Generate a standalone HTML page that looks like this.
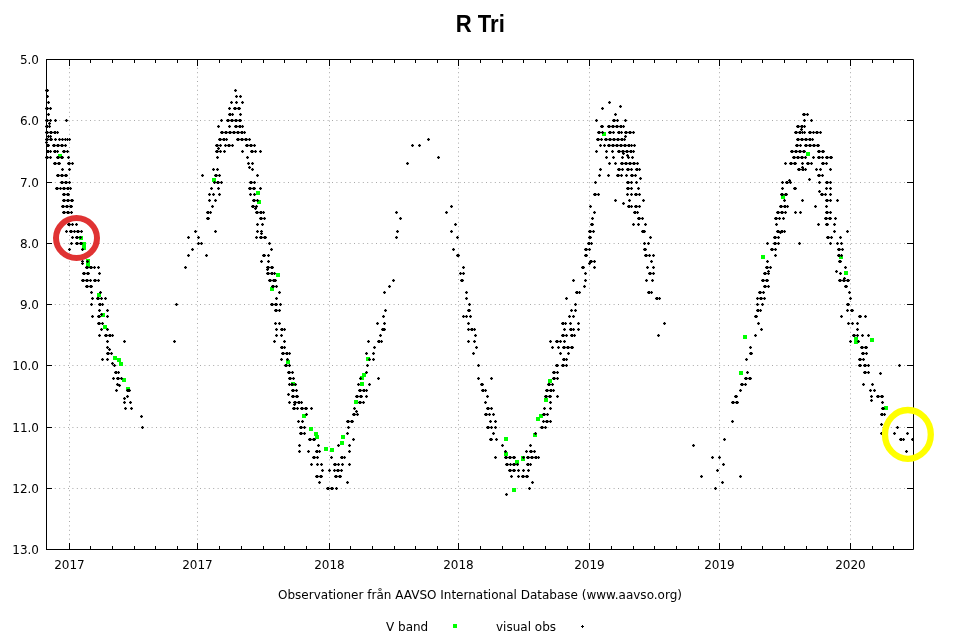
<!DOCTYPE html>
<html><head><meta charset="utf-8"><style>
html,body{margin:0;padding:0;background:#fff;width:960px;height:640px;overflow:hidden}
svg{display:block}
text{font-family:"DejaVu Sans","Liberation Sans",sans-serif;font-size:12px;fill:#000}
</style></head><body>
<svg width="960" height="640" viewBox="0 0 960 640">
<rect width="960" height="640" fill="#fff"/>
<text transform="translate(480.3 32) scale(0.96 1)" text-anchor="middle" style="font-family:'Liberation Sans',sans-serif;font-weight:bold;font-size:23px">R Tri</text>
<path d="M46 120.5H913M46 182.5H913M46 243.5H913M46 304.5H913M46 365.5H913M46 427.5H913M46 488.5H913M69.5 59V549M197.5 59V549M329.5 59V549M458.5 59V549M589.5 59V549M719.5 59V549M850.5 59V549" stroke="#a8a8a8" stroke-width="1" stroke-dasharray="1 3.4" fill="none"/>
<path d="M58 154h4v4h-4zM79 236h4v4h-4zM82 242h4v4h-4zM82 246h4v4h-4zM86 259h4v4h-4zM86 263h4v4h-4zM97 293h4v4h-4zM101 313h4v4h-4zM103 325h4v4h-4zM113 356h4v4h-4zM117 358h4v4h-4zM119 362h4v4h-4zM122 378h4v4h-4zM126 387h4v4h-4zM212 178h4v4h-4zM256 191h4v4h-4zM257 200h4v4h-4zM276 273h4v4h-4zM270 287h4v4h-4zM286 360h4v4h-4zM291 382h4v4h-4zM302 414h4v4h-4zM309 427h4v4h-4zM314 432h4v4h-4zM315 435h4v4h-4zM324 447h4v4h-4zM330 448h4v4h-4zM340 441h4v4h-4zM341 435h4v4h-4zM354 400h4v4h-4zM360 382h4v4h-4zM360 376h4v4h-4zM362 373h4v4h-4zM366 357h4v4h-4zM504 437h4v4h-4zM504 452h4v4h-4zM515 460h4v4h-4zM521 457h4v4h-4zM512 488h4v4h-4zM521 456h4v4h-4zM533 433h4v4h-4zM536 417h4v4h-4zM539 414h4v4h-4zM544 398h4v4h-4zM548 379h4v4h-4zM602 132h4v4h-4zM739 371h4v4h-4zM743 335h4v4h-4zM761 255h4v4h-4zM781 195h4v4h-4zM806 152h4v4h-4zM839 255h4v4h-4zM844 271h4v4h-4zM854 337h4v4h-4zM854 340h4v4h-4zM870 338h4v4h-4zM884 406h4v4h-4z" fill="#00ff00"/>
<path d="M45 89h3v3h-3zM46 89h3v3h-3zM46 95h3v3h-3zM47 101h3v3h-3zM45 107h3v3h-3zM46 107h3v3h-3zM49 107h3v3h-3zM47 113h3v3h-3zM45 119h3v3h-3zM46 119h3v3h-3zM49 119h3v3h-3zM54 119h3v3h-3zM65 119h3v3h-3zM48 122h3v3h-3zM45 125h3v3h-3zM46 125h3v3h-3zM48 125h3v3h-3zM45 131h3v3h-3zM46 131h3v3h-3zM49 131h3v3h-3zM50 131h3v3h-3zM53 131h3v3h-3zM54 131h3v3h-3zM56 131h3v3h-3zM47 135h3v3h-3zM49 135h3v3h-3zM45 138h3v3h-3zM46 138h3v3h-3zM49 138h3v3h-3zM50 138h3v3h-3zM54 138h3v3h-3zM58 138h3v3h-3zM61 138h3v3h-3zM64 138h3v3h-3zM66 138h3v3h-3zM68 138h3v3h-3zM45 141h3v3h-3zM46 144h3v3h-3zM47 144h3v3h-3zM52 144h3v3h-3zM53 144h3v3h-3zM56 144h3v3h-3zM57 144h3v3h-3zM60 144h3v3h-3zM61 144h3v3h-3zM64 144h3v3h-3zM46 150h3v3h-3zM47 150h3v3h-3zM49 150h3v3h-3zM53 150h3v3h-3zM54 150h3v3h-3zM56 150h3v3h-3zM62 150h3v3h-3zM63 150h3v3h-3zM66 150h3v3h-3zM45 156h3v3h-3zM46 156h3v3h-3zM49 156h3v3h-3zM56 156h3v3h-3zM57 156h3v3h-3zM60 156h3v3h-3zM61 156h3v3h-3zM67 156h3v3h-3zM53 162h3v3h-3zM54 162h3v3h-3zM57 162h3v3h-3zM58 162h3v3h-3zM67 162h3v3h-3zM68 162h3v3h-3zM71 162h3v3h-3zM61 168h3v3h-3zM68 168h3v3h-3zM56 174h3v3h-3zM57 174h3v3h-3zM60 174h3v3h-3zM61 174h3v3h-3zM64 174h3v3h-3zM65 174h3v3h-3zM60 181h3v3h-3zM61 181h3v3h-3zM64 181h3v3h-3zM65 181h3v3h-3zM68 181h3v3h-3zM55 187h3v3h-3zM56 187h3v3h-3zM59 187h3v3h-3zM62 187h3v3h-3zM63 187h3v3h-3zM66 187h3v3h-3zM67 187h3v3h-3zM69 187h3v3h-3zM62 193h3v3h-3zM63 193h3v3h-3zM66 193h3v3h-3zM67 193h3v3h-3zM62 199h3v3h-3zM63 199h3v3h-3zM66 199h3v3h-3zM67 199h3v3h-3zM70 199h3v3h-3zM71 199h3v3h-3zM61 205h3v3h-3zM62 205h3v3h-3zM65 205h3v3h-3zM66 205h3v3h-3zM69 205h3v3h-3zM70 205h3v3h-3zM62 211h3v3h-3zM63 211h3v3h-3zM66 211h3v3h-3zM67 211h3v3h-3zM70 211h3v3h-3zM67 223h3v3h-3zM68 223h3v3h-3zM71 223h3v3h-3zM75 223h3v3h-3zM65 230h3v3h-3zM69 230h3v3h-3zM70 230h3v3h-3zM73 230h3v3h-3zM76 230h3v3h-3zM77 230h3v3h-3zM80 230h3v3h-3zM71 236h3v3h-3zM75 236h3v3h-3zM76 236h3v3h-3zM79 236h3v3h-3zM70 242h3v3h-3zM75 242h3v3h-3zM76 242h3v3h-3zM79 242h3v3h-3zM80 242h3v3h-3zM68 248h3v3h-3zM81 248h3v3h-3zM81 260h3v3h-3zM86 260h3v3h-3zM81 262h3v3h-3zM85 266h3v3h-3zM86 266h3v3h-3zM89 266h3v3h-3zM90 266h3v3h-3zM93 266h3v3h-3zM97 266h3v3h-3zM82 272h3v3h-3zM83 272h3v3h-3zM86 272h3v3h-3zM87 272h3v3h-3zM98 272h3v3h-3zM81 279h3v3h-3zM82 279h3v3h-3zM85 279h3v3h-3zM86 279h3v3h-3zM89 279h3v3h-3zM93 279h3v3h-3zM94 279h3v3h-3zM97 279h3v3h-3zM85 285h3v3h-3zM86 285h3v3h-3zM89 285h3v3h-3zM90 285h3v3h-3zM90 291h3v3h-3zM99 291h3v3h-3zM91 297h3v3h-3zM96 297h3v3h-3zM97 297h3v3h-3zM100 297h3v3h-3zM104 297h3v3h-3zM90 303h3v3h-3zM98 303h3v3h-3zM99 303h3v3h-3zM101 303h3v3h-3zM98 309h3v3h-3zM106 309h3v3h-3zM91 315h3v3h-3zM97 315h3v3h-3zM98 315h3v3h-3zM106 315h3v3h-3zM100 313h3v3h-3zM97 322h3v3h-3zM98 322h3v3h-3zM101 322h3v3h-3zM100 328h3v3h-3zM106 328h3v3h-3zM98 334h3v3h-3zM104 334h3v3h-3zM105 334h3v3h-3zM108 334h3v3h-3zM109 334h3v3h-3zM111 334h3v3h-3zM106 340h3v3h-3zM123 340h3v3h-3zM106 346h3v3h-3zM108 348h3v3h-3zM106 352h3v3h-3zM107 352h3v3h-3zM110 352h3v3h-3zM101 358h3v3h-3zM106 358h3v3h-3zM111 362h3v3h-3zM113 364h3v3h-3zM114 371h3v3h-3zM115 371h3v3h-3zM117 371h3v3h-3zM112 377h3v3h-3zM116 377h3v3h-3zM117 377h3v3h-3zM120 377h3v3h-3zM116 383h3v3h-3zM118 384h3v3h-3zM115 389h3v3h-3zM126 389h3v3h-3zM127 389h3v3h-3zM128 389h3v3h-3zM126 395h3v3h-3zM123 397h3v3h-3zM123 401h3v3h-3zM129 401h3v3h-3zM124 407h3v3h-3zM130 407h3v3h-3zM140 415h3v3h-3zM141 426h3v3h-3zM175 303h3v3h-3zM173 340h3v3h-3zM184 266h3v3h-3zM187 254h3v3h-3zM205 254h3v3h-3zM191 248h3v3h-3zM197 242h3v3h-3zM200 242h3v3h-3zM187 236h3v3h-3zM197 236h3v3h-3zM194 230h3v3h-3zM214 230h3v3h-3zM206 217h3v3h-3zM207 217h3v3h-3zM206 211h3v3h-3zM207 211h3v3h-3zM209 211h3v3h-3zM211 205h3v3h-3zM208 199h3v3h-3zM214 199h3v3h-3zM208 193h3v3h-3zM212 193h3v3h-3zM218 193h3v3h-3zM210 187h3v3h-3zM217 187h3v3h-3zM213 181h3v3h-3zM216 181h3v3h-3zM217 181h3v3h-3zM220 181h3v3h-3zM201 174h3v3h-3zM214 174h3v3h-3zM215 174h3v3h-3zM218 174h3v3h-3zM212 168h3v3h-3zM216 168h3v3h-3zM216 156h3v3h-3zM215 150h3v3h-3zM216 150h3v3h-3zM219 150h3v3h-3zM223 150h3v3h-3zM215 144h3v3h-3zM216 144h3v3h-3zM219 144h3v3h-3zM224 144h3v3h-3zM227 144h3v3h-3zM228 144h3v3h-3zM231 144h3v3h-3zM217 147h3v3h-3zM218 138h3v3h-3zM219 138h3v3h-3zM222 138h3v3h-3zM223 138h3v3h-3zM225 138h3v3h-3zM236 138h3v3h-3zM237 138h3v3h-3zM240 138h3v3h-3zM241 138h3v3h-3zM244 138h3v3h-3zM245 138h3v3h-3zM248 138h3v3h-3zM220 131h3v3h-3zM221 131h3v3h-3zM224 131h3v3h-3zM225 131h3v3h-3zM228 131h3v3h-3zM229 131h3v3h-3zM232 131h3v3h-3zM233 131h3v3h-3zM236 131h3v3h-3zM237 131h3v3h-3zM240 131h3v3h-3zM241 131h3v3h-3zM243 131h3v3h-3zM217 125h3v3h-3zM228 125h3v3h-3zM234 125h3v3h-3zM235 125h3v3h-3zM238 125h3v3h-3zM239 125h3v3h-3zM241 125h3v3h-3zM220 119h3v3h-3zM226 119h3v3h-3zM227 119h3v3h-3zM230 119h3v3h-3zM231 119h3v3h-3zM234 119h3v3h-3zM235 119h3v3h-3zM238 119h3v3h-3zM239 119h3v3h-3zM228 113h3v3h-3zM229 113h3v3h-3zM231 113h3v3h-3zM239 113h3v3h-3zM228 107h3v3h-3zM233 107h3v3h-3zM234 107h3v3h-3zM237 107h3v3h-3zM238 107h3v3h-3zM230 101h3v3h-3zM235 101h3v3h-3zM241 101h3v3h-3zM235 95h3v3h-3zM239 95h3v3h-3zM234 89h3v3h-3zM245 144h3v3h-3zM246 144h3v3h-3zM249 144h3v3h-3zM250 144h3v3h-3zM253 144h3v3h-3zM241 150h3v3h-3zM250 150h3v3h-3zM251 150h3v3h-3zM254 150h3v3h-3zM259 150h3v3h-3zM246 156h3v3h-3zM247 162h3v3h-3zM251 162h3v3h-3zM248 166h3v3h-3zM251 168h3v3h-3zM256 174h3v3h-3zM249 181h3v3h-3zM250 181h3v3h-3zM253 181h3v3h-3zM248 187h3v3h-3zM249 187h3v3h-3zM252 187h3v3h-3zM253 187h3v3h-3zM259 187h3v3h-3zM249 193h3v3h-3zM253 193h3v3h-3zM252 199h3v3h-3zM253 199h3v3h-3zM256 199h3v3h-3zM251 205h3v3h-3zM252 205h3v3h-3zM255 205h3v3h-3zM254 207h3v3h-3zM255 211h3v3h-3zM256 211h3v3h-3zM259 211h3v3h-3zM260 211h3v3h-3zM262 211h3v3h-3zM259 217h3v3h-3zM260 217h3v3h-3zM263 217h3v3h-3zM256 223h3v3h-3zM261 223h3v3h-3zM256 230h3v3h-3zM260 230h3v3h-3zM260 232h3v3h-3zM255 236h3v3h-3zM259 236h3v3h-3zM260 236h3v3h-3zM263 236h3v3h-3zM264 236h3v3h-3zM268 242h3v3h-3zM270 248h3v3h-3zM262 254h3v3h-3zM263 254h3v3h-3zM267 254h3v3h-3zM260 260h3v3h-3zM267 260h3v3h-3zM266 266h3v3h-3zM267 266h3v3h-3zM270 266h3v3h-3zM271 266h3v3h-3zM266 268h3v3h-3zM266 272h3v3h-3zM267 272h3v3h-3zM270 272h3v3h-3zM271 272h3v3h-3zM273 272h3v3h-3zM268 279h3v3h-3zM269 279h3v3h-3zM272 279h3v3h-3zM273 279h3v3h-3zM274 279h3v3h-3zM271 285h3v3h-3zM272 285h3v3h-3zM275 285h3v3h-3zM278 291h3v3h-3zM275 297h3v3h-3zM270 303h3v3h-3zM271 303h3v3h-3zM274 303h3v3h-3zM275 303h3v3h-3zM279 303h3v3h-3zM274 309h3v3h-3zM275 309h3v3h-3zM278 309h3v3h-3zM274 322h3v3h-3zM278 322h3v3h-3zM275 328h3v3h-3zM280 328h3v3h-3zM281 328h3v3h-3zM283 328h3v3h-3zM275 334h3v3h-3zM280 334h3v3h-3zM273 340h3v3h-3zM283 340h3v3h-3zM280 346h3v3h-3zM281 346h3v3h-3zM283 346h3v3h-3zM281 352h3v3h-3zM282 352h3v3h-3zM285 352h3v3h-3zM286 352h3v3h-3zM288 352h3v3h-3zM280 358h3v3h-3zM286 358h3v3h-3zM284 364h3v3h-3zM285 364h3v3h-3zM288 364h3v3h-3zM287 371h3v3h-3zM288 371h3v3h-3zM291 371h3v3h-3zM288 377h3v3h-3zM289 377h3v3h-3zM292 377h3v3h-3zM288 383h3v3h-3zM290 383h3v3h-3zM291 383h3v3h-3zM294 383h3v3h-3zM291 389h3v3h-3zM292 389h3v3h-3zM295 389h3v3h-3zM287 393h3v3h-3zM291 395h3v3h-3zM292 395h3v3h-3zM295 395h3v3h-3zM296 395h3v3h-3zM288 401h3v3h-3zM293 401h3v3h-3zM294 401h3v3h-3zM297 401h3v3h-3zM298 401h3v3h-3zM300 401h3v3h-3zM293 403h3v3h-3zM292 407h3v3h-3zM293 407h3v3h-3zM296 407h3v3h-3zM300 407h3v3h-3zM301 407h3v3h-3zM304 407h3v3h-3zM305 407h3v3h-3zM310 407h3v3h-3zM305 413h3v3h-3zM297 420h3v3h-3zM301 420h3v3h-3zM299 426h3v3h-3zM300 426h3v3h-3zM303 426h3v3h-3zM299 432h3v3h-3zM300 432h3v3h-3zM303 432h3v3h-3zM308 438h3v3h-3zM309 438h3v3h-3zM312 438h3v3h-3zM313 438h3v3h-3zM298 444h3v3h-3zM317 444h3v3h-3zM298 450h3v3h-3zM307 450h3v3h-3zM315 450h3v3h-3zM316 450h3v3h-3zM318 450h3v3h-3zM312 456h3v3h-3zM313 456h3v3h-3zM316 456h3v3h-3zM330 456h3v3h-3zM310 463h3v3h-3zM316 463h3v3h-3zM320 463h3v3h-3zM333 463h3v3h-3zM334 463h3v3h-3zM337 463h3v3h-3zM321 469h3v3h-3zM328 469h3v3h-3zM333 469h3v3h-3zM336 469h3v3h-3zM337 469h3v3h-3zM340 469h3v3h-3zM315 475h3v3h-3zM316 475h3v3h-3zM319 475h3v3h-3zM320 475h3v3h-3zM334 475h3v3h-3zM335 475h3v3h-3zM338 475h3v3h-3zM339 475h3v3h-3zM318 481h3v3h-3zM346 481h3v3h-3zM326 487h3v3h-3zM327 487h3v3h-3zM330 487h3v3h-3zM331 487h3v3h-3zM335 487h3v3h-3zM341 463h3v3h-3zM348 463h3v3h-3zM340 456h3v3h-3zM341 456h3v3h-3zM343 456h3v3h-3zM348 450h3v3h-3zM337 444h3v3h-3zM348 444h3v3h-3zM352 438h3v3h-3zM346 432h3v3h-3zM347 426h3v3h-3zM346 420h3v3h-3zM347 420h3v3h-3zM350 420h3v3h-3zM351 420h3v3h-3zM352 413h3v3h-3zM353 413h3v3h-3zM356 413h3v3h-3zM355 410h3v3h-3zM353 407h3v3h-3zM358 401h3v3h-3zM359 401h3v3h-3zM362 401h3v3h-3zM355 395h3v3h-3zM356 395h3v3h-3zM359 395h3v3h-3zM360 395h3v3h-3zM365 395h3v3h-3zM358 389h3v3h-3zM359 389h3v3h-3zM362 389h3v3h-3zM363 389h3v3h-3zM365 389h3v3h-3zM357 383h3v3h-3zM368 383h3v3h-3zM359 377h3v3h-3zM377 377h3v3h-3zM365 371h3v3h-3zM366 364h3v3h-3zM368 358h3v3h-3zM372 358h3v3h-3zM365 352h3v3h-3zM372 352h3v3h-3zM373 346h3v3h-3zM367 340h3v3h-3zM377 340h3v3h-3zM378 340h3v3h-3zM380 340h3v3h-3zM379 334h3v3h-3zM381 328h3v3h-3zM382 328h3v3h-3zM383 328h3v3h-3zM376 322h3v3h-3zM383 322h3v3h-3zM382 315h3v3h-3zM384 309h3v3h-3zM383 291h3v3h-3zM388 285h3v3h-3zM392 279h3v3h-3zM395 236h3v3h-3zM396 230h3v3h-3zM399 217h3v3h-3zM395 211h3v3h-3zM406 162h3v3h-3zM411 144h3v3h-3zM418 144h3v3h-3zM427 138h3v3h-3zM437 156h3v3h-3zM450 205h3v3h-3zM445 211h3v3h-3zM454 223h3v3h-3zM450 230h3v3h-3zM456 236h3v3h-3zM452 248h3v3h-3zM456 254h3v3h-3zM457 254h3v3h-3zM462 266h3v3h-3zM459 272h3v3h-3zM462 272h3v3h-3zM460 279h3v3h-3zM461 279h3v3h-3zM465 291h3v3h-3zM465 297h3v3h-3zM468 303h3v3h-3zM467 309h3v3h-3zM468 309h3v3h-3zM462 315h3v3h-3zM465 315h3v3h-3zM469 315h3v3h-3zM467 322h3v3h-3zM467 328h3v3h-3zM470 328h3v3h-3zM471 328h3v3h-3zM473 328h3v3h-3zM474 334h3v3h-3zM467 340h3v3h-3zM473 340h3v3h-3zM475 346h3v3h-3zM472 352h3v3h-3zM477 364h3v3h-3zM477 377h3v3h-3zM490 377h3v3h-3zM480 383h3v3h-3zM481 383h3v3h-3zM481 389h3v3h-3zM482 389h3v3h-3zM484 389h3v3h-3zM486 395h3v3h-3zM484 401h3v3h-3zM486 407h3v3h-3zM487 407h3v3h-3zM490 407h3v3h-3zM484 413h3v3h-3zM485 413h3v3h-3zM488 413h3v3h-3zM492 413h3v3h-3zM489 420h3v3h-3zM494 420h3v3h-3zM486 426h3v3h-3zM487 426h3v3h-3zM490 426h3v3h-3zM494 426h3v3h-3zM492 432h3v3h-3zM489 438h3v3h-3zM490 438h3v3h-3zM495 438h3v3h-3zM501 444h3v3h-3zM529 444h3v3h-3zM504 450h3v3h-3zM525 450h3v3h-3zM529 450h3v3h-3zM530 450h3v3h-3zM533 450h3v3h-3zM494 456h3v3h-3zM504 456h3v3h-3zM505 456h3v3h-3zM508 456h3v3h-3zM509 456h3v3h-3zM512 456h3v3h-3zM513 456h3v3h-3zM522 456h3v3h-3zM526 456h3v3h-3zM527 456h3v3h-3zM530 456h3v3h-3zM531 456h3v3h-3zM534 456h3v3h-3zM535 456h3v3h-3zM537 456h3v3h-3zM505 463h3v3h-3zM506 463h3v3h-3zM509 463h3v3h-3zM512 463h3v3h-3zM513 463h3v3h-3zM516 463h3v3h-3zM526 463h3v3h-3zM527 463h3v3h-3zM529 463h3v3h-3zM508 469h3v3h-3zM509 469h3v3h-3zM512 469h3v3h-3zM513 469h3v3h-3zM517 469h3v3h-3zM522 469h3v3h-3zM527 469h3v3h-3zM510 475h3v3h-3zM517 475h3v3h-3zM521 475h3v3h-3zM522 475h3v3h-3zM525 475h3v3h-3zM526 475h3v3h-3zM531 481h3v3h-3zM528 487h3v3h-3zM505 493h3v3h-3zM534 432h3v3h-3zM540 426h3v3h-3zM541 426h3v3h-3zM544 426h3v3h-3zM542 420h3v3h-3zM545 420h3v3h-3zM546 420h3v3h-3zM549 420h3v3h-3zM542 413h3v3h-3zM543 413h3v3h-3zM546 413h3v3h-3zM543 407h3v3h-3zM549 407h3v3h-3zM549 401h3v3h-3zM544 395h3v3h-3zM545 395h3v3h-3zM548 395h3v3h-3zM549 395h3v3h-3zM556 395h3v3h-3zM545 389h3v3h-3zM546 389h3v3h-3zM549 389h3v3h-3zM550 389h3v3h-3zM552 389h3v3h-3zM547 383h3v3h-3zM548 383h3v3h-3zM551 383h3v3h-3zM552 377h3v3h-3zM553 377h3v3h-3zM556 377h3v3h-3zM552 371h3v3h-3zM553 371h3v3h-3zM556 371h3v3h-3zM555 364h3v3h-3zM556 364h3v3h-3zM561 364h3v3h-3zM562 364h3v3h-3zM565 364h3v3h-3zM562 358h3v3h-3zM563 358h3v3h-3zM565 358h3v3h-3zM559 352h3v3h-3zM567 352h3v3h-3zM551 346h3v3h-3zM557 346h3v3h-3zM562 346h3v3h-3zM563 346h3v3h-3zM566 346h3v3h-3zM567 346h3v3h-3zM570 346h3v3h-3zM571 346h3v3h-3zM549 340h3v3h-3zM555 340h3v3h-3zM556 340h3v3h-3zM559 340h3v3h-3zM563 340h3v3h-3zM561 334h3v3h-3zM562 334h3v3h-3zM565 334h3v3h-3zM570 334h3v3h-3zM571 334h3v3h-3zM573 334h3v3h-3zM563 328h3v3h-3zM569 328h3v3h-3zM570 328h3v3h-3zM572 328h3v3h-3zM577 328h3v3h-3zM561 322h3v3h-3zM562 322h3v3h-3zM564 322h3v3h-3zM569 322h3v3h-3zM577 322h3v3h-3zM568 315h3v3h-3zM572 315h3v3h-3zM570 309h3v3h-3zM574 309h3v3h-3zM574 303h3v3h-3zM565 297h3v3h-3zM575 291h3v3h-3zM576 291h3v3h-3zM578 291h3v3h-3zM583 285h3v3h-3zM572 279h3v3h-3zM584 279h3v3h-3zM584 272h3v3h-3zM581 266h3v3h-3zM582 266h3v3h-3zM593 266h3v3h-3zM589 260h3v3h-3zM590 260h3v3h-3zM593 260h3v3h-3zM588 262h3v3h-3zM584 254h3v3h-3zM585 254h3v3h-3zM584 248h3v3h-3zM585 248h3v3h-3zM588 248h3v3h-3zM587 242h3v3h-3zM588 242h3v3h-3zM590 242h3v3h-3zM588 236h3v3h-3zM589 236h3v3h-3zM588 230h3v3h-3zM589 230h3v3h-3zM592 230h3v3h-3zM590 223h3v3h-3zM591 223h3v3h-3zM632 223h3v3h-3zM637 223h3v3h-3zM644 223h3v3h-3zM591 217h3v3h-3zM637 217h3v3h-3zM638 217h3v3h-3zM641 217h3v3h-3zM593 211h3v3h-3zM633 211h3v3h-3zM634 211h3v3h-3zM636 211h3v3h-3zM589 205h3v3h-3zM627 205h3v3h-3zM628 205h3v3h-3zM630 205h3v3h-3zM634 205h3v3h-3zM635 205h3v3h-3zM638 205h3v3h-3zM622 202h3v3h-3zM614 199h3v3h-3zM628 199h3v3h-3zM642 199h3v3h-3zM593 193h3v3h-3zM594 193h3v3h-3zM597 193h3v3h-3zM626 193h3v3h-3zM630 193h3v3h-3zM634 193h3v3h-3zM635 193h3v3h-3zM638 193h3v3h-3zM626 187h3v3h-3zM627 187h3v3h-3zM630 187h3v3h-3zM637 187h3v3h-3zM594 181h3v3h-3zM626 181h3v3h-3zM627 181h3v3h-3zM630 181h3v3h-3zM635 181h3v3h-3zM639 177h3v3h-3zM598 174h3v3h-3zM607 174h3v3h-3zM616 174h3v3h-3zM617 174h3v3h-3zM620 174h3v3h-3zM625 174h3v3h-3zM630 174h3v3h-3zM631 174h3v3h-3zM634 174h3v3h-3zM599 168h3v3h-3zM617 168h3v3h-3zM618 168h3v3h-3zM621 168h3v3h-3zM626 168h3v3h-3zM627 168h3v3h-3zM630 168h3v3h-3zM635 168h3v3h-3zM636 168h3v3h-3zM638 168h3v3h-3zM608 162h3v3h-3zM614 162h3v3h-3zM620 162h3v3h-3zM621 162h3v3h-3zM624 162h3v3h-3zM625 162h3v3h-3zM628 162h3v3h-3zM629 162h3v3h-3zM632 162h3v3h-3zM633 162h3v3h-3zM636 162h3v3h-3zM605 156h3v3h-3zM612 156h3v3h-3zM621 156h3v3h-3zM627 156h3v3h-3zM631 156h3v3h-3zM626 154h3v3h-3zM595 150h3v3h-3zM605 150h3v3h-3zM611 150h3v3h-3zM617 150h3v3h-3zM618 150h3v3h-3zM621 150h3v3h-3zM622 150h3v3h-3zM625 150h3v3h-3zM626 150h3v3h-3zM629 150h3v3h-3zM630 150h3v3h-3zM632 150h3v3h-3zM622 152h3v3h-3zM599 144h3v3h-3zM603 144h3v3h-3zM607 144h3v3h-3zM608 144h3v3h-3zM611 144h3v3h-3zM612 144h3v3h-3zM615 144h3v3h-3zM616 144h3v3h-3zM619 144h3v3h-3zM620 144h3v3h-3zM623 144h3v3h-3zM624 144h3v3h-3zM627 144h3v3h-3zM628 144h3v3h-3zM630 144h3v3h-3zM633 144h3v3h-3zM596 138h3v3h-3zM597 138h3v3h-3zM600 138h3v3h-3zM604 138h3v3h-3zM605 138h3v3h-3zM608 138h3v3h-3zM609 138h3v3h-3zM612 138h3v3h-3zM613 138h3v3h-3zM616 138h3v3h-3zM617 138h3v3h-3zM620 138h3v3h-3zM621 138h3v3h-3zM623 138h3v3h-3zM624 135h3v3h-3zM597 131h3v3h-3zM598 131h3v3h-3zM601 131h3v3h-3zM608 131h3v3h-3zM609 131h3v3h-3zM612 131h3v3h-3zM617 131h3v3h-3zM618 131h3v3h-3zM620 131h3v3h-3zM624 131h3v3h-3zM625 131h3v3h-3zM628 131h3v3h-3zM629 131h3v3h-3zM632 131h3v3h-3zM600 125h3v3h-3zM601 125h3v3h-3zM607 125h3v3h-3zM608 125h3v3h-3zM611 125h3v3h-3zM612 125h3v3h-3zM615 125h3v3h-3zM616 125h3v3h-3zM619 125h3v3h-3zM620 125h3v3h-3zM622 125h3v3h-3zM595 119h3v3h-3zM612 119h3v3h-3zM613 119h3v3h-3zM616 119h3v3h-3zM624 119h3v3h-3zM614 113h3v3h-3zM601 107h3v3h-3zM619 105h3v3h-3zM608 101h3v3h-3zM641 230h3v3h-3zM642 230h3v3h-3zM643 230h3v3h-3zM649 236h3v3h-3zM643 242h3v3h-3zM647 242h3v3h-3zM643 248h3v3h-3zM644 248h3v3h-3zM644 254h3v3h-3zM645 254h3v3h-3zM648 254h3v3h-3zM652 254h3v3h-3zM650 260h3v3h-3zM646 266h3v3h-3zM652 266h3v3h-3zM648 272h3v3h-3zM649 272h3v3h-3zM652 272h3v3h-3zM645 279h3v3h-3zM651 279h3v3h-3zM647 291h3v3h-3zM648 291h3v3h-3zM650 291h3v3h-3zM655 297h3v3h-3zM656 297h3v3h-3zM658 297h3v3h-3zM663 322h3v3h-3zM657 334h3v3h-3zM723 438h3v3h-3zM692 444h3v3h-3zM711 456h3v3h-3zM718 456h3v3h-3zM722 463h3v3h-3zM716 469h3v3h-3zM700 475h3v3h-3zM739 475h3v3h-3zM721 481h3v3h-3zM714 487h3v3h-3zM731 420h3v3h-3zM731 401h3v3h-3zM732 401h3v3h-3zM735 401h3v3h-3zM736 401h3v3h-3zM734 395h3v3h-3zM735 395h3v3h-3zM739 389h3v3h-3zM740 383h3v3h-3zM741 383h3v3h-3zM744 383h3v3h-3zM744 377h3v3h-3zM745 377h3v3h-3zM748 377h3v3h-3zM749 377h3v3h-3zM746 371h3v3h-3zM745 358h3v3h-3zM749 352h3v3h-3zM750 352h3v3h-3zM749 346h3v3h-3zM754 334h3v3h-3zM760 328h3v3h-3zM757 322h3v3h-3zM754 315h3v3h-3zM755 315h3v3h-3zM756 309h3v3h-3zM757 309h3v3h-3zM759 309h3v3h-3zM756 303h3v3h-3zM761 303h3v3h-3zM756 297h3v3h-3zM759 297h3v3h-3zM760 297h3v3h-3zM763 297h3v3h-3zM758 291h3v3h-3zM759 291h3v3h-3zM762 291h3v3h-3zM763 285h3v3h-3zM764 285h3v3h-3zM767 285h3v3h-3zM761 279h3v3h-3zM762 279h3v3h-3zM765 279h3v3h-3zM766 279h3v3h-3zM763 272h3v3h-3zM764 272h3v3h-3zM767 272h3v3h-3zM767 270h3v3h-3zM765 266h3v3h-3zM766 266h3v3h-3zM769 266h3v3h-3zM766 260h3v3h-3zM774 254h3v3h-3zM770 248h3v3h-3zM771 248h3v3h-3zM774 248h3v3h-3zM766 242h3v3h-3zM773 242h3v3h-3zM774 242h3v3h-3zM777 242h3v3h-3zM798 242h3v3h-3zM773 236h3v3h-3zM774 236h3v3h-3zM777 236h3v3h-3zM776 230h3v3h-3zM777 230h3v3h-3zM780 230h3v3h-3zM781 230h3v3h-3zM783 230h3v3h-3zM833 230h3v3h-3zM779 231h3v3h-3zM775 223h3v3h-3zM817 223h3v3h-3zM825 223h3v3h-3zM826 223h3v3h-3zM833 223h3v3h-3zM774 217h3v3h-3zM775 217h3v3h-3zM778 217h3v3h-3zM782 217h3v3h-3zM824 217h3v3h-3zM825 217h3v3h-3zM828 217h3v3h-3zM829 217h3v3h-3zM834 217h3v3h-3zM776 211h3v3h-3zM777 211h3v3h-3zM780 211h3v3h-3zM781 211h3v3h-3zM784 211h3v3h-3zM794 211h3v3h-3zM799 211h3v3h-3zM825 211h3v3h-3zM826 211h3v3h-3zM829 211h3v3h-3zM779 205h3v3h-3zM780 205h3v3h-3zM783 205h3v3h-3zM784 205h3v3h-3zM786 205h3v3h-3zM814 205h3v3h-3zM825 205h3v3h-3zM783 199h3v3h-3zM801 199h3v3h-3zM825 199h3v3h-3zM826 199h3v3h-3zM829 199h3v3h-3zM836 199h3v3h-3zM780 193h3v3h-3zM781 193h3v3h-3zM784 193h3v3h-3zM785 193h3v3h-3zM820 193h3v3h-3zM821 193h3v3h-3zM824 193h3v3h-3zM829 193h3v3h-3zM818 190h3v3h-3zM781 187h3v3h-3zM793 187h3v3h-3zM794 187h3v3h-3zM825 187h3v3h-3zM829 187h3v3h-3zM781 181h3v3h-3zM785 181h3v3h-3zM786 181h3v3h-3zM789 181h3v3h-3zM818 181h3v3h-3zM825 181h3v3h-3zM826 181h3v3h-3zM829 181h3v3h-3zM788 179h3v3h-3zM808 178h3v3h-3zM817 174h3v3h-3zM818 174h3v3h-3zM821 174h3v3h-3zM797 168h3v3h-3zM798 168h3v3h-3zM801 168h3v3h-3zM802 168h3v3h-3zM804 168h3v3h-3zM815 168h3v3h-3zM819 168h3v3h-3zM829 168h3v3h-3zM801 166h3v3h-3zM784 162h3v3h-3zM789 162h3v3h-3zM790 162h3v3h-3zM793 162h3v3h-3zM794 162h3v3h-3zM801 162h3v3h-3zM806 162h3v3h-3zM807 162h3v3h-3zM810 162h3v3h-3zM821 162h3v3h-3zM822 162h3v3h-3zM825 162h3v3h-3zM792 156h3v3h-3zM793 156h3v3h-3zM796 156h3v3h-3zM797 156h3v3h-3zM800 156h3v3h-3zM801 156h3v3h-3zM804 156h3v3h-3zM812 156h3v3h-3zM817 156h3v3h-3zM818 156h3v3h-3zM821 156h3v3h-3zM825 156h3v3h-3zM826 156h3v3h-3zM829 156h3v3h-3zM830 156h3v3h-3zM790 150h3v3h-3zM791 150h3v3h-3zM794 150h3v3h-3zM795 150h3v3h-3zM798 150h3v3h-3zM799 150h3v3h-3zM802 150h3v3h-3zM803 150h3v3h-3zM817 150h3v3h-3zM818 150h3v3h-3zM821 150h3v3h-3zM822 150h3v3h-3zM795 144h3v3h-3zM796 144h3v3h-3zM799 144h3v3h-3zM804 144h3v3h-3zM805 144h3v3h-3zM808 144h3v3h-3zM809 144h3v3h-3zM812 144h3v3h-3zM813 144h3v3h-3zM816 144h3v3h-3zM817 144h3v3h-3zM796 138h3v3h-3zM797 138h3v3h-3zM800 138h3v3h-3zM801 138h3v3h-3zM804 138h3v3h-3zM805 138h3v3h-3zM808 138h3v3h-3zM809 138h3v3h-3zM811 138h3v3h-3zM794 131h3v3h-3zM795 131h3v3h-3zM798 131h3v3h-3zM799 131h3v3h-3zM801 131h3v3h-3zM803 131h3v3h-3zM808 131h3v3h-3zM809 131h3v3h-3zM812 131h3v3h-3zM815 131h3v3h-3zM816 131h3v3h-3zM819 131h3v3h-3zM800 128h3v3h-3zM796 125h3v3h-3zM797 125h3v3h-3zM800 125h3v3h-3zM801 125h3v3h-3zM803 125h3v3h-3zM803 119h3v3h-3zM810 119h3v3h-3zM802 113h3v3h-3zM803 113h3v3h-3zM806 113h3v3h-3zM846 230h3v3h-3zM826 236h3v3h-3zM827 236h3v3h-3zM830 236h3v3h-3zM839 236h3v3h-3zM829 242h3v3h-3zM836 242h3v3h-3zM840 242h3v3h-3zM837 248h3v3h-3zM838 248h3v3h-3zM841 248h3v3h-3zM837 254h3v3h-3zM838 254h3v3h-3zM840 254h3v3h-3zM838 260h3v3h-3zM839 260h3v3h-3zM844 266h3v3h-3zM835 270h3v3h-3zM839 272h3v3h-3zM843 277h3v3h-3zM838 279h3v3h-3zM839 279h3v3h-3zM842 279h3v3h-3zM843 279h3v3h-3zM846 279h3v3h-3zM847 279h3v3h-3zM844 285h3v3h-3zM845 285h3v3h-3zM848 291h3v3h-3zM849 297h3v3h-3zM846 303h3v3h-3zM847 303h3v3h-3zM846 309h3v3h-3zM850 309h3v3h-3zM851 309h3v3h-3zM840 315h3v3h-3zM858 315h3v3h-3zM859 315h3v3h-3zM864 315h3v3h-3zM847 322h3v3h-3zM851 322h3v3h-3zM856 322h3v3h-3zM856 328h3v3h-3zM852 334h3v3h-3zM853 334h3v3h-3zM856 334h3v3h-3zM861 334h3v3h-3zM867 334h3v3h-3zM849 340h3v3h-3zM857 340h3v3h-3zM860 346h3v3h-3zM861 346h3v3h-3zM864 346h3v3h-3zM865 346h3v3h-3zM861 352h3v3h-3zM862 352h3v3h-3zM865 352h3v3h-3zM858 358h3v3h-3zM859 358h3v3h-3zM862 358h3v3h-3zM858 364h3v3h-3zM859 364h3v3h-3zM863 364h3v3h-3zM864 364h3v3h-3zM867 364h3v3h-3zM898 364h3v3h-3zM863 371h3v3h-3zM864 371h3v3h-3zM867 371h3v3h-3zM879 372h3v3h-3zM862 383h3v3h-3zM871 383h3v3h-3zM869 389h3v3h-3zM873 389h3v3h-3zM870 395h3v3h-3zM876 395h3v3h-3zM877 395h3v3h-3zM880 395h3v3h-3zM881 395h3v3h-3zM870 399h3v3h-3zM881 401h3v3h-3zM881 407h3v3h-3zM882 407h3v3h-3zM880 413h3v3h-3zM881 413h3v3h-3zM883 413h3v3h-3zM880 423h3v3h-3zM896 426h3v3h-3zM880 432h3v3h-3zM893 432h3v3h-3zM906 432h3v3h-3zM899 438h3v3h-3zM900 438h3v3h-3zM902 438h3v3h-3zM911 438h3v3h-3zM905 450h3v3h-3z" fill="#000" fill-opacity="0.22"/>
<path d="M45 90h3v1h-3zM46 89h1v3h-1zM46 90h3v1h-3zM47 89h1v3h-1zM46 96h3v1h-3zM47 95h1v3h-1zM47 102h3v1h-3zM48 101h1v3h-1zM45 108h3v1h-3zM46 107h1v3h-1zM46 108h3v1h-3zM47 107h1v3h-1zM49 108h3v1h-3zM50 107h1v3h-1zM47 114h3v1h-3zM48 113h1v3h-1zM45 120h3v1h-3zM46 119h1v3h-1zM46 120h3v1h-3zM47 119h1v3h-1zM49 120h3v1h-3zM50 119h1v3h-1zM54 120h3v1h-3zM55 119h1v3h-1zM65 120h3v1h-3zM66 119h1v3h-1zM48 123h3v1h-3zM49 122h1v3h-1zM45 126h3v1h-3zM46 125h1v3h-1zM46 126h3v1h-3zM47 125h1v3h-1zM48 126h3v1h-3zM49 125h1v3h-1zM45 132h3v1h-3zM46 131h1v3h-1zM46 132h3v1h-3zM47 131h1v3h-1zM49 132h3v1h-3zM50 131h1v3h-1zM50 132h3v1h-3zM51 131h1v3h-1zM53 132h3v1h-3zM54 131h1v3h-1zM54 132h3v1h-3zM55 131h1v3h-1zM56 132h3v1h-3zM57 131h1v3h-1zM47 136h3v1h-3zM48 135h1v3h-1zM49 136h3v1h-3zM50 135h1v3h-1zM45 139h3v1h-3zM46 138h1v3h-1zM46 139h3v1h-3zM47 138h1v3h-1zM49 139h3v1h-3zM50 138h1v3h-1zM50 139h3v1h-3zM51 138h1v3h-1zM54 139h3v1h-3zM55 138h1v3h-1zM58 139h3v1h-3zM59 138h1v3h-1zM61 139h3v1h-3zM62 138h1v3h-1zM64 139h3v1h-3zM65 138h1v3h-1zM66 139h3v1h-3zM67 138h1v3h-1zM68 139h3v1h-3zM69 138h1v3h-1zM45 142h3v1h-3zM46 141h1v3h-1zM46 145h3v1h-3zM47 144h1v3h-1zM47 145h3v1h-3zM48 144h1v3h-1zM52 145h3v1h-3zM53 144h1v3h-1zM53 145h3v1h-3zM54 144h1v3h-1zM56 145h3v1h-3zM57 144h1v3h-1zM57 145h3v1h-3zM58 144h1v3h-1zM60 145h3v1h-3zM61 144h1v3h-1zM61 145h3v1h-3zM62 144h1v3h-1zM64 145h3v1h-3zM65 144h1v3h-1zM46 151h3v1h-3zM47 150h1v3h-1zM47 151h3v1h-3zM48 150h1v3h-1zM49 151h3v1h-3zM50 150h1v3h-1zM53 151h3v1h-3zM54 150h1v3h-1zM54 151h3v1h-3zM55 150h1v3h-1zM56 151h3v1h-3zM57 150h1v3h-1zM62 151h3v1h-3zM63 150h1v3h-1zM63 151h3v1h-3zM64 150h1v3h-1zM66 151h3v1h-3zM67 150h1v3h-1zM45 157h3v1h-3zM46 156h1v3h-1zM46 157h3v1h-3zM47 156h1v3h-1zM49 157h3v1h-3zM50 156h1v3h-1zM56 157h3v1h-3zM57 156h1v3h-1zM57 157h3v1h-3zM58 156h1v3h-1zM60 157h3v1h-3zM61 156h1v3h-1zM61 157h3v1h-3zM62 156h1v3h-1zM67 157h3v1h-3zM68 156h1v3h-1zM53 163h3v1h-3zM54 162h1v3h-1zM54 163h3v1h-3zM55 162h1v3h-1zM57 163h3v1h-3zM58 162h1v3h-1zM58 163h3v1h-3zM59 162h1v3h-1zM67 163h3v1h-3zM68 162h1v3h-1zM68 163h3v1h-3zM69 162h1v3h-1zM71 163h3v1h-3zM72 162h1v3h-1zM61 169h3v1h-3zM62 168h1v3h-1zM68 169h3v1h-3zM69 168h1v3h-1zM56 175h3v1h-3zM57 174h1v3h-1zM57 175h3v1h-3zM58 174h1v3h-1zM60 175h3v1h-3zM61 174h1v3h-1zM61 175h3v1h-3zM62 174h1v3h-1zM64 175h3v1h-3zM65 174h1v3h-1zM65 175h3v1h-3zM66 174h1v3h-1zM60 182h3v1h-3zM61 181h1v3h-1zM61 182h3v1h-3zM62 181h1v3h-1zM64 182h3v1h-3zM65 181h1v3h-1zM65 182h3v1h-3zM66 181h1v3h-1zM68 182h3v1h-3zM69 181h1v3h-1zM55 188h3v1h-3zM56 187h1v3h-1zM56 188h3v1h-3zM57 187h1v3h-1zM59 188h3v1h-3zM60 187h1v3h-1zM62 188h3v1h-3zM63 187h1v3h-1zM63 188h3v1h-3zM64 187h1v3h-1zM66 188h3v1h-3zM67 187h1v3h-1zM67 188h3v1h-3zM68 187h1v3h-1zM69 188h3v1h-3zM70 187h1v3h-1zM62 194h3v1h-3zM63 193h1v3h-1zM63 194h3v1h-3zM64 193h1v3h-1zM66 194h3v1h-3zM67 193h1v3h-1zM67 194h3v1h-3zM68 193h1v3h-1zM62 200h3v1h-3zM63 199h1v3h-1zM63 200h3v1h-3zM64 199h1v3h-1zM66 200h3v1h-3zM67 199h1v3h-1zM67 200h3v1h-3zM68 199h1v3h-1zM70 200h3v1h-3zM71 199h1v3h-1zM71 200h3v1h-3zM72 199h1v3h-1zM61 206h3v1h-3zM62 205h1v3h-1zM62 206h3v1h-3zM63 205h1v3h-1zM65 206h3v1h-3zM66 205h1v3h-1zM66 206h3v1h-3zM67 205h1v3h-1zM69 206h3v1h-3zM70 205h1v3h-1zM70 206h3v1h-3zM71 205h1v3h-1zM62 212h3v1h-3zM63 211h1v3h-1zM63 212h3v1h-3zM64 211h1v3h-1zM66 212h3v1h-3zM67 211h1v3h-1zM67 212h3v1h-3zM68 211h1v3h-1zM70 212h3v1h-3zM71 211h1v3h-1zM67 224h3v1h-3zM68 223h1v3h-1zM68 224h3v1h-3zM69 223h1v3h-1zM71 224h3v1h-3zM72 223h1v3h-1zM75 224h3v1h-3zM76 223h1v3h-1zM65 231h3v1h-3zM66 230h1v3h-1zM69 231h3v1h-3zM70 230h1v3h-1zM70 231h3v1h-3zM71 230h1v3h-1zM73 231h3v1h-3zM74 230h1v3h-1zM76 231h3v1h-3zM77 230h1v3h-1zM77 231h3v1h-3zM78 230h1v3h-1zM80 231h3v1h-3zM81 230h1v3h-1zM71 237h3v1h-3zM72 236h1v3h-1zM75 237h3v1h-3zM76 236h1v3h-1zM76 237h3v1h-3zM77 236h1v3h-1zM79 237h3v1h-3zM80 236h1v3h-1zM70 243h3v1h-3zM71 242h1v3h-1zM75 243h3v1h-3zM76 242h1v3h-1zM76 243h3v1h-3zM77 242h1v3h-1zM79 243h3v1h-3zM80 242h1v3h-1zM80 243h3v1h-3zM81 242h1v3h-1zM68 249h3v1h-3zM69 248h1v3h-1zM81 249h3v1h-3zM82 248h1v3h-1zM81 261h3v1h-3zM82 260h1v3h-1zM86 261h3v1h-3zM87 260h1v3h-1zM81 263h3v1h-3zM82 262h1v3h-1zM85 267h3v1h-3zM86 266h1v3h-1zM86 267h3v1h-3zM87 266h1v3h-1zM89 267h3v1h-3zM90 266h1v3h-1zM90 267h3v1h-3zM91 266h1v3h-1zM93 267h3v1h-3zM94 266h1v3h-1zM97 267h3v1h-3zM98 266h1v3h-1zM82 273h3v1h-3zM83 272h1v3h-1zM83 273h3v1h-3zM84 272h1v3h-1zM86 273h3v1h-3zM87 272h1v3h-1zM87 273h3v1h-3zM88 272h1v3h-1zM98 273h3v1h-3zM99 272h1v3h-1zM81 280h3v1h-3zM82 279h1v3h-1zM82 280h3v1h-3zM83 279h1v3h-1zM85 280h3v1h-3zM86 279h1v3h-1zM86 280h3v1h-3zM87 279h1v3h-1zM89 280h3v1h-3zM90 279h1v3h-1zM93 280h3v1h-3zM94 279h1v3h-1zM94 280h3v1h-3zM95 279h1v3h-1zM97 280h3v1h-3zM98 279h1v3h-1zM85 286h3v1h-3zM86 285h1v3h-1zM86 286h3v1h-3zM87 285h1v3h-1zM89 286h3v1h-3zM90 285h1v3h-1zM90 286h3v1h-3zM91 285h1v3h-1zM90 292h3v1h-3zM91 291h1v3h-1zM99 292h3v1h-3zM100 291h1v3h-1zM91 298h3v1h-3zM92 297h1v3h-1zM96 298h3v1h-3zM97 297h1v3h-1zM97 298h3v1h-3zM98 297h1v3h-1zM100 298h3v1h-3zM101 297h1v3h-1zM104 298h3v1h-3zM105 297h1v3h-1zM90 304h3v1h-3zM91 303h1v3h-1zM98 304h3v1h-3zM99 303h1v3h-1zM99 304h3v1h-3zM100 303h1v3h-1zM101 304h3v1h-3zM102 303h1v3h-1zM98 310h3v1h-3zM99 309h1v3h-1zM106 310h3v1h-3zM107 309h1v3h-1zM91 316h3v1h-3zM92 315h1v3h-1zM97 316h3v1h-3zM98 315h1v3h-1zM98 316h3v1h-3zM99 315h1v3h-1zM106 316h3v1h-3zM107 315h1v3h-1zM100 314h3v1h-3zM101 313h1v3h-1zM97 323h3v1h-3zM98 322h1v3h-1zM98 323h3v1h-3zM99 322h1v3h-1zM101 323h3v1h-3zM102 322h1v3h-1zM100 329h3v1h-3zM101 328h1v3h-1zM106 329h3v1h-3zM107 328h1v3h-1zM98 335h3v1h-3zM99 334h1v3h-1zM104 335h3v1h-3zM105 334h1v3h-1zM105 335h3v1h-3zM106 334h1v3h-1zM108 335h3v1h-3zM109 334h1v3h-1zM109 335h3v1h-3zM110 334h1v3h-1zM111 335h3v1h-3zM112 334h1v3h-1zM106 341h3v1h-3zM107 340h1v3h-1zM123 341h3v1h-3zM124 340h1v3h-1zM106 347h3v1h-3zM107 346h1v3h-1zM108 349h3v1h-3zM109 348h1v3h-1zM106 353h3v1h-3zM107 352h1v3h-1zM107 353h3v1h-3zM108 352h1v3h-1zM110 353h3v1h-3zM111 352h1v3h-1zM101 359h3v1h-3zM102 358h1v3h-1zM106 359h3v1h-3zM107 358h1v3h-1zM111 363h3v1h-3zM112 362h1v3h-1zM113 365h3v1h-3zM114 364h1v3h-1zM114 372h3v1h-3zM115 371h1v3h-1zM115 372h3v1h-3zM116 371h1v3h-1zM117 372h3v1h-3zM118 371h1v3h-1zM112 378h3v1h-3zM113 377h1v3h-1zM116 378h3v1h-3zM117 377h1v3h-1zM117 378h3v1h-3zM118 377h1v3h-1zM120 378h3v1h-3zM121 377h1v3h-1zM116 384h3v1h-3zM117 383h1v3h-1zM118 385h3v1h-3zM119 384h1v3h-1zM115 390h3v1h-3zM116 389h1v3h-1zM126 390h3v1h-3zM127 389h1v3h-1zM127 390h3v1h-3zM128 389h1v3h-1zM128 390h3v1h-3zM129 389h1v3h-1zM126 396h3v1h-3zM127 395h1v3h-1zM123 398h3v1h-3zM124 397h1v3h-1zM123 402h3v1h-3zM124 401h1v3h-1zM129 402h3v1h-3zM130 401h1v3h-1zM124 408h3v1h-3zM125 407h1v3h-1zM130 408h3v1h-3zM131 407h1v3h-1zM140 416h3v1h-3zM141 415h1v3h-1zM141 427h3v1h-3zM142 426h1v3h-1zM175 304h3v1h-3zM176 303h1v3h-1zM173 341h3v1h-3zM174 340h1v3h-1zM184 267h3v1h-3zM185 266h1v3h-1zM187 255h3v1h-3zM188 254h1v3h-1zM205 255h3v1h-3zM206 254h1v3h-1zM191 249h3v1h-3zM192 248h1v3h-1zM197 243h3v1h-3zM198 242h1v3h-1zM200 243h3v1h-3zM201 242h1v3h-1zM187 237h3v1h-3zM188 236h1v3h-1zM197 237h3v1h-3zM198 236h1v3h-1zM194 231h3v1h-3zM195 230h1v3h-1zM214 231h3v1h-3zM215 230h1v3h-1zM206 218h3v1h-3zM207 217h1v3h-1zM207 218h3v1h-3zM208 217h1v3h-1zM206 212h3v1h-3zM207 211h1v3h-1zM207 212h3v1h-3zM208 211h1v3h-1zM209 212h3v1h-3zM210 211h1v3h-1zM211 206h3v1h-3zM212 205h1v3h-1zM208 200h3v1h-3zM209 199h1v3h-1zM214 200h3v1h-3zM215 199h1v3h-1zM208 194h3v1h-3zM209 193h1v3h-1zM212 194h3v1h-3zM213 193h1v3h-1zM218 194h3v1h-3zM219 193h1v3h-1zM210 188h3v1h-3zM211 187h1v3h-1zM217 188h3v1h-3zM218 187h1v3h-1zM213 182h3v1h-3zM214 181h1v3h-1zM216 182h3v1h-3zM217 181h1v3h-1zM217 182h3v1h-3zM218 181h1v3h-1zM220 182h3v1h-3zM221 181h1v3h-1zM201 175h3v1h-3zM202 174h1v3h-1zM214 175h3v1h-3zM215 174h1v3h-1zM215 175h3v1h-3zM216 174h1v3h-1zM218 175h3v1h-3zM219 174h1v3h-1zM212 169h3v1h-3zM213 168h1v3h-1zM216 169h3v1h-3zM217 168h1v3h-1zM216 157h3v1h-3zM217 156h1v3h-1zM215 151h3v1h-3zM216 150h1v3h-1zM216 151h3v1h-3zM217 150h1v3h-1zM219 151h3v1h-3zM220 150h1v3h-1zM223 151h3v1h-3zM224 150h1v3h-1zM215 145h3v1h-3zM216 144h1v3h-1zM216 145h3v1h-3zM217 144h1v3h-1zM219 145h3v1h-3zM220 144h1v3h-1zM224 145h3v1h-3zM225 144h1v3h-1zM227 145h3v1h-3zM228 144h1v3h-1zM228 145h3v1h-3zM229 144h1v3h-1zM231 145h3v1h-3zM232 144h1v3h-1zM217 148h3v1h-3zM218 147h1v3h-1zM218 139h3v1h-3zM219 138h1v3h-1zM219 139h3v1h-3zM220 138h1v3h-1zM222 139h3v1h-3zM223 138h1v3h-1zM223 139h3v1h-3zM224 138h1v3h-1zM225 139h3v1h-3zM226 138h1v3h-1zM236 139h3v1h-3zM237 138h1v3h-1zM237 139h3v1h-3zM238 138h1v3h-1zM240 139h3v1h-3zM241 138h1v3h-1zM241 139h3v1h-3zM242 138h1v3h-1zM244 139h3v1h-3zM245 138h1v3h-1zM245 139h3v1h-3zM246 138h1v3h-1zM248 139h3v1h-3zM249 138h1v3h-1zM220 132h3v1h-3zM221 131h1v3h-1zM221 132h3v1h-3zM222 131h1v3h-1zM224 132h3v1h-3zM225 131h1v3h-1zM225 132h3v1h-3zM226 131h1v3h-1zM228 132h3v1h-3zM229 131h1v3h-1zM229 132h3v1h-3zM230 131h1v3h-1zM232 132h3v1h-3zM233 131h1v3h-1zM233 132h3v1h-3zM234 131h1v3h-1zM236 132h3v1h-3zM237 131h1v3h-1zM237 132h3v1h-3zM238 131h1v3h-1zM240 132h3v1h-3zM241 131h1v3h-1zM241 132h3v1h-3zM242 131h1v3h-1zM243 132h3v1h-3zM244 131h1v3h-1zM217 126h3v1h-3zM218 125h1v3h-1zM228 126h3v1h-3zM229 125h1v3h-1zM234 126h3v1h-3zM235 125h1v3h-1zM235 126h3v1h-3zM236 125h1v3h-1zM238 126h3v1h-3zM239 125h1v3h-1zM239 126h3v1h-3zM240 125h1v3h-1zM241 126h3v1h-3zM242 125h1v3h-1zM220 120h3v1h-3zM221 119h1v3h-1zM226 120h3v1h-3zM227 119h1v3h-1zM227 120h3v1h-3zM228 119h1v3h-1zM230 120h3v1h-3zM231 119h1v3h-1zM231 120h3v1h-3zM232 119h1v3h-1zM234 120h3v1h-3zM235 119h1v3h-1zM235 120h3v1h-3zM236 119h1v3h-1zM238 120h3v1h-3zM239 119h1v3h-1zM239 120h3v1h-3zM240 119h1v3h-1zM228 114h3v1h-3zM229 113h1v3h-1zM229 114h3v1h-3zM230 113h1v3h-1zM231 114h3v1h-3zM232 113h1v3h-1zM239 114h3v1h-3zM240 113h1v3h-1zM228 108h3v1h-3zM229 107h1v3h-1zM233 108h3v1h-3zM234 107h1v3h-1zM234 108h3v1h-3zM235 107h1v3h-1zM237 108h3v1h-3zM238 107h1v3h-1zM238 108h3v1h-3zM239 107h1v3h-1zM230 102h3v1h-3zM231 101h1v3h-1zM235 102h3v1h-3zM236 101h1v3h-1zM241 102h3v1h-3zM242 101h1v3h-1zM235 96h3v1h-3zM236 95h1v3h-1zM239 96h3v1h-3zM240 95h1v3h-1zM234 90h3v1h-3zM235 89h1v3h-1zM245 145h3v1h-3zM246 144h1v3h-1zM246 145h3v1h-3zM247 144h1v3h-1zM249 145h3v1h-3zM250 144h1v3h-1zM250 145h3v1h-3zM251 144h1v3h-1zM253 145h3v1h-3zM254 144h1v3h-1zM241 151h3v1h-3zM242 150h1v3h-1zM250 151h3v1h-3zM251 150h1v3h-1zM251 151h3v1h-3zM252 150h1v3h-1zM254 151h3v1h-3zM255 150h1v3h-1zM259 151h3v1h-3zM260 150h1v3h-1zM246 157h3v1h-3zM247 156h1v3h-1zM247 163h3v1h-3zM248 162h1v3h-1zM251 163h3v1h-3zM252 162h1v3h-1zM248 167h3v1h-3zM249 166h1v3h-1zM251 169h3v1h-3zM252 168h1v3h-1zM256 175h3v1h-3zM257 174h1v3h-1zM249 182h3v1h-3zM250 181h1v3h-1zM250 182h3v1h-3zM251 181h1v3h-1zM253 182h3v1h-3zM254 181h1v3h-1zM248 188h3v1h-3zM249 187h1v3h-1zM249 188h3v1h-3zM250 187h1v3h-1zM252 188h3v1h-3zM253 187h1v3h-1zM253 188h3v1h-3zM254 187h1v3h-1zM259 188h3v1h-3zM260 187h1v3h-1zM249 194h3v1h-3zM250 193h1v3h-1zM253 194h3v1h-3zM254 193h1v3h-1zM252 200h3v1h-3zM253 199h1v3h-1zM253 200h3v1h-3zM254 199h1v3h-1zM256 200h3v1h-3zM257 199h1v3h-1zM251 206h3v1h-3zM252 205h1v3h-1zM252 206h3v1h-3zM253 205h1v3h-1zM255 206h3v1h-3zM256 205h1v3h-1zM254 208h3v1h-3zM255 207h1v3h-1zM255 212h3v1h-3zM256 211h1v3h-1zM256 212h3v1h-3zM257 211h1v3h-1zM259 212h3v1h-3zM260 211h1v3h-1zM260 212h3v1h-3zM261 211h1v3h-1zM262 212h3v1h-3zM263 211h1v3h-1zM259 218h3v1h-3zM260 217h1v3h-1zM260 218h3v1h-3zM261 217h1v3h-1zM263 218h3v1h-3zM264 217h1v3h-1zM256 224h3v1h-3zM257 223h1v3h-1zM261 224h3v1h-3zM262 223h1v3h-1zM256 231h3v1h-3zM257 230h1v3h-1zM260 231h3v1h-3zM261 230h1v3h-1zM260 233h3v1h-3zM261 232h1v3h-1zM255 237h3v1h-3zM256 236h1v3h-1zM259 237h3v1h-3zM260 236h1v3h-1zM260 237h3v1h-3zM261 236h1v3h-1zM263 237h3v1h-3zM264 236h1v3h-1zM264 237h3v1h-3zM265 236h1v3h-1zM268 243h3v1h-3zM269 242h1v3h-1zM270 249h3v1h-3zM271 248h1v3h-1zM262 255h3v1h-3zM263 254h1v3h-1zM263 255h3v1h-3zM264 254h1v3h-1zM267 255h3v1h-3zM268 254h1v3h-1zM260 261h3v1h-3zM261 260h1v3h-1zM267 261h3v1h-3zM268 260h1v3h-1zM266 267h3v1h-3zM267 266h1v3h-1zM267 267h3v1h-3zM268 266h1v3h-1zM270 267h3v1h-3zM271 266h1v3h-1zM271 267h3v1h-3zM272 266h1v3h-1zM266 269h3v1h-3zM267 268h1v3h-1zM266 273h3v1h-3zM267 272h1v3h-1zM267 273h3v1h-3zM268 272h1v3h-1zM270 273h3v1h-3zM271 272h1v3h-1zM271 273h3v1h-3zM272 272h1v3h-1zM273 273h3v1h-3zM274 272h1v3h-1zM268 280h3v1h-3zM269 279h1v3h-1zM269 280h3v1h-3zM270 279h1v3h-1zM272 280h3v1h-3zM273 279h1v3h-1zM273 280h3v1h-3zM274 279h1v3h-1zM274 280h3v1h-3zM275 279h1v3h-1zM271 286h3v1h-3zM272 285h1v3h-1zM272 286h3v1h-3zM273 285h1v3h-1zM275 286h3v1h-3zM276 285h1v3h-1zM278 292h3v1h-3zM279 291h1v3h-1zM275 298h3v1h-3zM276 297h1v3h-1zM270 304h3v1h-3zM271 303h1v3h-1zM271 304h3v1h-3zM272 303h1v3h-1zM274 304h3v1h-3zM275 303h1v3h-1zM275 304h3v1h-3zM276 303h1v3h-1zM279 304h3v1h-3zM280 303h1v3h-1zM274 310h3v1h-3zM275 309h1v3h-1zM275 310h3v1h-3zM276 309h1v3h-1zM278 310h3v1h-3zM279 309h1v3h-1zM274 323h3v1h-3zM275 322h1v3h-1zM278 323h3v1h-3zM279 322h1v3h-1zM275 329h3v1h-3zM276 328h1v3h-1zM280 329h3v1h-3zM281 328h1v3h-1zM281 329h3v1h-3zM282 328h1v3h-1zM283 329h3v1h-3zM284 328h1v3h-1zM275 335h3v1h-3zM276 334h1v3h-1zM280 335h3v1h-3zM281 334h1v3h-1zM273 341h3v1h-3zM274 340h1v3h-1zM283 341h3v1h-3zM284 340h1v3h-1zM280 347h3v1h-3zM281 346h1v3h-1zM281 347h3v1h-3zM282 346h1v3h-1zM283 347h3v1h-3zM284 346h1v3h-1zM281 353h3v1h-3zM282 352h1v3h-1zM282 353h3v1h-3zM283 352h1v3h-1zM285 353h3v1h-3zM286 352h1v3h-1zM286 353h3v1h-3zM287 352h1v3h-1zM288 353h3v1h-3zM289 352h1v3h-1zM280 359h3v1h-3zM281 358h1v3h-1zM286 359h3v1h-3zM287 358h1v3h-1zM284 365h3v1h-3zM285 364h1v3h-1zM285 365h3v1h-3zM286 364h1v3h-1zM288 365h3v1h-3zM289 364h1v3h-1zM287 372h3v1h-3zM288 371h1v3h-1zM288 372h3v1h-3zM289 371h1v3h-1zM291 372h3v1h-3zM292 371h1v3h-1zM288 378h3v1h-3zM289 377h1v3h-1zM289 378h3v1h-3zM290 377h1v3h-1zM292 378h3v1h-3zM293 377h1v3h-1zM288 384h3v1h-3zM289 383h1v3h-1zM290 384h3v1h-3zM291 383h1v3h-1zM291 384h3v1h-3zM292 383h1v3h-1zM294 384h3v1h-3zM295 383h1v3h-1zM291 390h3v1h-3zM292 389h1v3h-1zM292 390h3v1h-3zM293 389h1v3h-1zM295 390h3v1h-3zM296 389h1v3h-1zM287 394h3v1h-3zM288 393h1v3h-1zM291 396h3v1h-3zM292 395h1v3h-1zM292 396h3v1h-3zM293 395h1v3h-1zM295 396h3v1h-3zM296 395h1v3h-1zM296 396h3v1h-3zM297 395h1v3h-1zM288 402h3v1h-3zM289 401h1v3h-1zM293 402h3v1h-3zM294 401h1v3h-1zM294 402h3v1h-3zM295 401h1v3h-1zM297 402h3v1h-3zM298 401h1v3h-1zM298 402h3v1h-3zM299 401h1v3h-1zM300 402h3v1h-3zM301 401h1v3h-1zM293 404h3v1h-3zM294 403h1v3h-1zM292 408h3v1h-3zM293 407h1v3h-1zM293 408h3v1h-3zM294 407h1v3h-1zM296 408h3v1h-3zM297 407h1v3h-1zM300 408h3v1h-3zM301 407h1v3h-1zM301 408h3v1h-3zM302 407h1v3h-1zM304 408h3v1h-3zM305 407h1v3h-1zM305 408h3v1h-3zM306 407h1v3h-1zM310 408h3v1h-3zM311 407h1v3h-1zM305 414h3v1h-3zM306 413h1v3h-1zM297 421h3v1h-3zM298 420h1v3h-1zM301 421h3v1h-3zM302 420h1v3h-1zM299 427h3v1h-3zM300 426h1v3h-1zM300 427h3v1h-3zM301 426h1v3h-1zM303 427h3v1h-3zM304 426h1v3h-1zM299 433h3v1h-3zM300 432h1v3h-1zM300 433h3v1h-3zM301 432h1v3h-1zM303 433h3v1h-3zM304 432h1v3h-1zM308 439h3v1h-3zM309 438h1v3h-1zM309 439h3v1h-3zM310 438h1v3h-1zM312 439h3v1h-3zM313 438h1v3h-1zM313 439h3v1h-3zM314 438h1v3h-1zM298 445h3v1h-3zM299 444h1v3h-1zM317 445h3v1h-3zM318 444h1v3h-1zM298 451h3v1h-3zM299 450h1v3h-1zM307 451h3v1h-3zM308 450h1v3h-1zM315 451h3v1h-3zM316 450h1v3h-1zM316 451h3v1h-3zM317 450h1v3h-1zM318 451h3v1h-3zM319 450h1v3h-1zM312 457h3v1h-3zM313 456h1v3h-1zM313 457h3v1h-3zM314 456h1v3h-1zM316 457h3v1h-3zM317 456h1v3h-1zM330 457h3v1h-3zM331 456h1v3h-1zM310 464h3v1h-3zM311 463h1v3h-1zM316 464h3v1h-3zM317 463h1v3h-1zM320 464h3v1h-3zM321 463h1v3h-1zM333 464h3v1h-3zM334 463h1v3h-1zM334 464h3v1h-3zM335 463h1v3h-1zM337 464h3v1h-3zM338 463h1v3h-1zM321 470h3v1h-3zM322 469h1v3h-1zM328 470h3v1h-3zM329 469h1v3h-1zM333 470h3v1h-3zM334 469h1v3h-1zM336 470h3v1h-3zM337 469h1v3h-1zM337 470h3v1h-3zM338 469h1v3h-1zM340 470h3v1h-3zM341 469h1v3h-1zM315 476h3v1h-3zM316 475h1v3h-1zM316 476h3v1h-3zM317 475h1v3h-1zM319 476h3v1h-3zM320 475h1v3h-1zM320 476h3v1h-3zM321 475h1v3h-1zM334 476h3v1h-3zM335 475h1v3h-1zM335 476h3v1h-3zM336 475h1v3h-1zM338 476h3v1h-3zM339 475h1v3h-1zM339 476h3v1h-3zM340 475h1v3h-1zM318 482h3v1h-3zM319 481h1v3h-1zM346 482h3v1h-3zM347 481h1v3h-1zM326 488h3v1h-3zM327 487h1v3h-1zM327 488h3v1h-3zM328 487h1v3h-1zM330 488h3v1h-3zM331 487h1v3h-1zM331 488h3v1h-3zM332 487h1v3h-1zM335 488h3v1h-3zM336 487h1v3h-1zM341 464h3v1h-3zM342 463h1v3h-1zM348 464h3v1h-3zM349 463h1v3h-1zM340 457h3v1h-3zM341 456h1v3h-1zM341 457h3v1h-3zM342 456h1v3h-1zM343 457h3v1h-3zM344 456h1v3h-1zM348 451h3v1h-3zM349 450h1v3h-1zM337 445h3v1h-3zM338 444h1v3h-1zM348 445h3v1h-3zM349 444h1v3h-1zM352 439h3v1h-3zM353 438h1v3h-1zM346 433h3v1h-3zM347 432h1v3h-1zM347 427h3v1h-3zM348 426h1v3h-1zM346 421h3v1h-3zM347 420h1v3h-1zM347 421h3v1h-3zM348 420h1v3h-1zM350 421h3v1h-3zM351 420h1v3h-1zM351 421h3v1h-3zM352 420h1v3h-1zM352 414h3v1h-3zM353 413h1v3h-1zM353 414h3v1h-3zM354 413h1v3h-1zM356 414h3v1h-3zM357 413h1v3h-1zM355 411h3v1h-3zM356 410h1v3h-1zM353 408h3v1h-3zM354 407h1v3h-1zM358 402h3v1h-3zM359 401h1v3h-1zM359 402h3v1h-3zM360 401h1v3h-1zM362 402h3v1h-3zM363 401h1v3h-1zM355 396h3v1h-3zM356 395h1v3h-1zM356 396h3v1h-3zM357 395h1v3h-1zM359 396h3v1h-3zM360 395h1v3h-1zM360 396h3v1h-3zM361 395h1v3h-1zM365 396h3v1h-3zM366 395h1v3h-1zM358 390h3v1h-3zM359 389h1v3h-1zM359 390h3v1h-3zM360 389h1v3h-1zM362 390h3v1h-3zM363 389h1v3h-1zM363 390h3v1h-3zM364 389h1v3h-1zM365 390h3v1h-3zM366 389h1v3h-1zM357 384h3v1h-3zM358 383h1v3h-1zM368 384h3v1h-3zM369 383h1v3h-1zM359 378h3v1h-3zM360 377h1v3h-1zM377 378h3v1h-3zM378 377h1v3h-1zM365 372h3v1h-3zM366 371h1v3h-1zM366 365h3v1h-3zM367 364h1v3h-1zM368 359h3v1h-3zM369 358h1v3h-1zM372 359h3v1h-3zM373 358h1v3h-1zM365 353h3v1h-3zM366 352h1v3h-1zM372 353h3v1h-3zM373 352h1v3h-1zM373 347h3v1h-3zM374 346h1v3h-1zM367 341h3v1h-3zM368 340h1v3h-1zM377 341h3v1h-3zM378 340h1v3h-1zM378 341h3v1h-3zM379 340h1v3h-1zM380 341h3v1h-3zM381 340h1v3h-1zM379 335h3v1h-3zM380 334h1v3h-1zM381 329h3v1h-3zM382 328h1v3h-1zM382 329h3v1h-3zM383 328h1v3h-1zM383 329h3v1h-3zM384 328h1v3h-1zM376 323h3v1h-3zM377 322h1v3h-1zM383 323h3v1h-3zM384 322h1v3h-1zM382 316h3v1h-3zM383 315h1v3h-1zM384 310h3v1h-3zM385 309h1v3h-1zM383 292h3v1h-3zM384 291h1v3h-1zM388 286h3v1h-3zM389 285h1v3h-1zM392 280h3v1h-3zM393 279h1v3h-1zM395 237h3v1h-3zM396 236h1v3h-1zM396 231h3v1h-3zM397 230h1v3h-1zM399 218h3v1h-3zM400 217h1v3h-1zM395 212h3v1h-3zM396 211h1v3h-1zM406 163h3v1h-3zM407 162h1v3h-1zM411 145h3v1h-3zM412 144h1v3h-1zM418 145h3v1h-3zM419 144h1v3h-1zM427 139h3v1h-3zM428 138h1v3h-1zM437 157h3v1h-3zM438 156h1v3h-1zM450 206h3v1h-3zM451 205h1v3h-1zM445 212h3v1h-3zM446 211h1v3h-1zM454 224h3v1h-3zM455 223h1v3h-1zM450 231h3v1h-3zM451 230h1v3h-1zM456 237h3v1h-3zM457 236h1v3h-1zM452 249h3v1h-3zM453 248h1v3h-1zM456 255h3v1h-3zM457 254h1v3h-1zM457 255h3v1h-3zM458 254h1v3h-1zM462 267h3v1h-3zM463 266h1v3h-1zM459 273h3v1h-3zM460 272h1v3h-1zM462 273h3v1h-3zM463 272h1v3h-1zM460 280h3v1h-3zM461 279h1v3h-1zM461 280h3v1h-3zM462 279h1v3h-1zM465 292h3v1h-3zM466 291h1v3h-1zM465 298h3v1h-3zM466 297h1v3h-1zM468 304h3v1h-3zM469 303h1v3h-1zM467 310h3v1h-3zM468 309h1v3h-1zM468 310h3v1h-3zM469 309h1v3h-1zM462 316h3v1h-3zM463 315h1v3h-1zM465 316h3v1h-3zM466 315h1v3h-1zM469 316h3v1h-3zM470 315h1v3h-1zM467 323h3v1h-3zM468 322h1v3h-1zM467 329h3v1h-3zM468 328h1v3h-1zM470 329h3v1h-3zM471 328h1v3h-1zM471 329h3v1h-3zM472 328h1v3h-1zM473 329h3v1h-3zM474 328h1v3h-1zM474 335h3v1h-3zM475 334h1v3h-1zM467 341h3v1h-3zM468 340h1v3h-1zM473 341h3v1h-3zM474 340h1v3h-1zM475 347h3v1h-3zM476 346h1v3h-1zM472 353h3v1h-3zM473 352h1v3h-1zM477 365h3v1h-3zM478 364h1v3h-1zM477 378h3v1h-3zM478 377h1v3h-1zM490 378h3v1h-3zM491 377h1v3h-1zM480 384h3v1h-3zM481 383h1v3h-1zM481 384h3v1h-3zM482 383h1v3h-1zM481 390h3v1h-3zM482 389h1v3h-1zM482 390h3v1h-3zM483 389h1v3h-1zM484 390h3v1h-3zM485 389h1v3h-1zM486 396h3v1h-3zM487 395h1v3h-1zM484 402h3v1h-3zM485 401h1v3h-1zM486 408h3v1h-3zM487 407h1v3h-1zM487 408h3v1h-3zM488 407h1v3h-1zM490 408h3v1h-3zM491 407h1v3h-1zM484 414h3v1h-3zM485 413h1v3h-1zM485 414h3v1h-3zM486 413h1v3h-1zM488 414h3v1h-3zM489 413h1v3h-1zM492 414h3v1h-3zM493 413h1v3h-1zM489 421h3v1h-3zM490 420h1v3h-1zM494 421h3v1h-3zM495 420h1v3h-1zM486 427h3v1h-3zM487 426h1v3h-1zM487 427h3v1h-3zM488 426h1v3h-1zM490 427h3v1h-3zM491 426h1v3h-1zM494 427h3v1h-3zM495 426h1v3h-1zM492 433h3v1h-3zM493 432h1v3h-1zM489 439h3v1h-3zM490 438h1v3h-1zM490 439h3v1h-3zM491 438h1v3h-1zM495 439h3v1h-3zM496 438h1v3h-1zM501 445h3v1h-3zM502 444h1v3h-1zM529 445h3v1h-3zM530 444h1v3h-1zM504 451h3v1h-3zM505 450h1v3h-1zM525 451h3v1h-3zM526 450h1v3h-1zM529 451h3v1h-3zM530 450h1v3h-1zM530 451h3v1h-3zM531 450h1v3h-1zM533 451h3v1h-3zM534 450h1v3h-1zM494 457h3v1h-3zM495 456h1v3h-1zM504 457h3v1h-3zM505 456h1v3h-1zM505 457h3v1h-3zM506 456h1v3h-1zM508 457h3v1h-3zM509 456h1v3h-1zM509 457h3v1h-3zM510 456h1v3h-1zM512 457h3v1h-3zM513 456h1v3h-1zM513 457h3v1h-3zM514 456h1v3h-1zM522 457h3v1h-3zM523 456h1v3h-1zM526 457h3v1h-3zM527 456h1v3h-1zM527 457h3v1h-3zM528 456h1v3h-1zM530 457h3v1h-3zM531 456h1v3h-1zM531 457h3v1h-3zM532 456h1v3h-1zM534 457h3v1h-3zM535 456h1v3h-1zM535 457h3v1h-3zM536 456h1v3h-1zM537 457h3v1h-3zM538 456h1v3h-1zM505 464h3v1h-3zM506 463h1v3h-1zM506 464h3v1h-3zM507 463h1v3h-1zM509 464h3v1h-3zM510 463h1v3h-1zM512 464h3v1h-3zM513 463h1v3h-1zM513 464h3v1h-3zM514 463h1v3h-1zM516 464h3v1h-3zM517 463h1v3h-1zM526 464h3v1h-3zM527 463h1v3h-1zM527 464h3v1h-3zM528 463h1v3h-1zM529 464h3v1h-3zM530 463h1v3h-1zM508 470h3v1h-3zM509 469h1v3h-1zM509 470h3v1h-3zM510 469h1v3h-1zM512 470h3v1h-3zM513 469h1v3h-1zM513 470h3v1h-3zM514 469h1v3h-1zM517 470h3v1h-3zM518 469h1v3h-1zM522 470h3v1h-3zM523 469h1v3h-1zM527 470h3v1h-3zM528 469h1v3h-1zM510 476h3v1h-3zM511 475h1v3h-1zM517 476h3v1h-3zM518 475h1v3h-1zM521 476h3v1h-3zM522 475h1v3h-1zM522 476h3v1h-3zM523 475h1v3h-1zM525 476h3v1h-3zM526 475h1v3h-1zM526 476h3v1h-3zM527 475h1v3h-1zM531 482h3v1h-3zM532 481h1v3h-1zM528 488h3v1h-3zM529 487h1v3h-1zM505 494h3v1h-3zM506 493h1v3h-1zM534 433h3v1h-3zM535 432h1v3h-1zM540 427h3v1h-3zM541 426h1v3h-1zM541 427h3v1h-3zM542 426h1v3h-1zM544 427h3v1h-3zM545 426h1v3h-1zM542 421h3v1h-3zM543 420h1v3h-1zM545 421h3v1h-3zM546 420h1v3h-1zM546 421h3v1h-3zM547 420h1v3h-1zM549 421h3v1h-3zM550 420h1v3h-1zM542 414h3v1h-3zM543 413h1v3h-1zM543 414h3v1h-3zM544 413h1v3h-1zM546 414h3v1h-3zM547 413h1v3h-1zM543 408h3v1h-3zM544 407h1v3h-1zM549 408h3v1h-3zM550 407h1v3h-1zM549 402h3v1h-3zM550 401h1v3h-1zM544 396h3v1h-3zM545 395h1v3h-1zM545 396h3v1h-3zM546 395h1v3h-1zM548 396h3v1h-3zM549 395h1v3h-1zM549 396h3v1h-3zM550 395h1v3h-1zM556 396h3v1h-3zM557 395h1v3h-1zM545 390h3v1h-3zM546 389h1v3h-1zM546 390h3v1h-3zM547 389h1v3h-1zM549 390h3v1h-3zM550 389h1v3h-1zM550 390h3v1h-3zM551 389h1v3h-1zM552 390h3v1h-3zM553 389h1v3h-1zM547 384h3v1h-3zM548 383h1v3h-1zM548 384h3v1h-3zM549 383h1v3h-1zM551 384h3v1h-3zM552 383h1v3h-1zM552 378h3v1h-3zM553 377h1v3h-1zM553 378h3v1h-3zM554 377h1v3h-1zM556 378h3v1h-3zM557 377h1v3h-1zM552 372h3v1h-3zM553 371h1v3h-1zM553 372h3v1h-3zM554 371h1v3h-1zM556 372h3v1h-3zM557 371h1v3h-1zM555 365h3v1h-3zM556 364h1v3h-1zM556 365h3v1h-3zM557 364h1v3h-1zM561 365h3v1h-3zM562 364h1v3h-1zM562 365h3v1h-3zM563 364h1v3h-1zM565 365h3v1h-3zM566 364h1v3h-1zM562 359h3v1h-3zM563 358h1v3h-1zM563 359h3v1h-3zM564 358h1v3h-1zM565 359h3v1h-3zM566 358h1v3h-1zM559 353h3v1h-3zM560 352h1v3h-1zM567 353h3v1h-3zM568 352h1v3h-1zM551 347h3v1h-3zM552 346h1v3h-1zM557 347h3v1h-3zM558 346h1v3h-1zM562 347h3v1h-3zM563 346h1v3h-1zM563 347h3v1h-3zM564 346h1v3h-1zM566 347h3v1h-3zM567 346h1v3h-1zM567 347h3v1h-3zM568 346h1v3h-1zM570 347h3v1h-3zM571 346h1v3h-1zM571 347h3v1h-3zM572 346h1v3h-1zM549 341h3v1h-3zM550 340h1v3h-1zM555 341h3v1h-3zM556 340h1v3h-1zM556 341h3v1h-3zM557 340h1v3h-1zM559 341h3v1h-3zM560 340h1v3h-1zM563 341h3v1h-3zM564 340h1v3h-1zM561 335h3v1h-3zM562 334h1v3h-1zM562 335h3v1h-3zM563 334h1v3h-1zM565 335h3v1h-3zM566 334h1v3h-1zM570 335h3v1h-3zM571 334h1v3h-1zM571 335h3v1h-3zM572 334h1v3h-1zM573 335h3v1h-3zM574 334h1v3h-1zM563 329h3v1h-3zM564 328h1v3h-1zM569 329h3v1h-3zM570 328h1v3h-1zM570 329h3v1h-3zM571 328h1v3h-1zM572 329h3v1h-3zM573 328h1v3h-1zM577 329h3v1h-3zM578 328h1v3h-1zM561 323h3v1h-3zM562 322h1v3h-1zM562 323h3v1h-3zM563 322h1v3h-1zM564 323h3v1h-3zM565 322h1v3h-1zM569 323h3v1h-3zM570 322h1v3h-1zM577 323h3v1h-3zM578 322h1v3h-1zM568 316h3v1h-3zM569 315h1v3h-1zM572 316h3v1h-3zM573 315h1v3h-1zM570 310h3v1h-3zM571 309h1v3h-1zM574 310h3v1h-3zM575 309h1v3h-1zM574 304h3v1h-3zM575 303h1v3h-1zM565 298h3v1h-3zM566 297h1v3h-1zM575 292h3v1h-3zM576 291h1v3h-1zM576 292h3v1h-3zM577 291h1v3h-1zM578 292h3v1h-3zM579 291h1v3h-1zM583 286h3v1h-3zM584 285h1v3h-1zM572 280h3v1h-3zM573 279h1v3h-1zM584 280h3v1h-3zM585 279h1v3h-1zM584 273h3v1h-3zM585 272h1v3h-1zM581 267h3v1h-3zM582 266h1v3h-1zM582 267h3v1h-3zM583 266h1v3h-1zM593 267h3v1h-3zM594 266h1v3h-1zM589 261h3v1h-3zM590 260h1v3h-1zM590 261h3v1h-3zM591 260h1v3h-1zM593 261h3v1h-3zM594 260h1v3h-1zM588 263h3v1h-3zM589 262h1v3h-1zM584 255h3v1h-3zM585 254h1v3h-1zM585 255h3v1h-3zM586 254h1v3h-1zM584 249h3v1h-3zM585 248h1v3h-1zM585 249h3v1h-3zM586 248h1v3h-1zM588 249h3v1h-3zM589 248h1v3h-1zM587 243h3v1h-3zM588 242h1v3h-1zM588 243h3v1h-3zM589 242h1v3h-1zM590 243h3v1h-3zM591 242h1v3h-1zM588 237h3v1h-3zM589 236h1v3h-1zM589 237h3v1h-3zM590 236h1v3h-1zM588 231h3v1h-3zM589 230h1v3h-1zM589 231h3v1h-3zM590 230h1v3h-1zM592 231h3v1h-3zM593 230h1v3h-1zM590 224h3v1h-3zM591 223h1v3h-1zM591 224h3v1h-3zM592 223h1v3h-1zM632 224h3v1h-3zM633 223h1v3h-1zM637 224h3v1h-3zM638 223h1v3h-1zM644 224h3v1h-3zM645 223h1v3h-1zM591 218h3v1h-3zM592 217h1v3h-1zM637 218h3v1h-3zM638 217h1v3h-1zM638 218h3v1h-3zM639 217h1v3h-1zM641 218h3v1h-3zM642 217h1v3h-1zM593 212h3v1h-3zM594 211h1v3h-1zM633 212h3v1h-3zM634 211h1v3h-1zM634 212h3v1h-3zM635 211h1v3h-1zM636 212h3v1h-3zM637 211h1v3h-1zM589 206h3v1h-3zM590 205h1v3h-1zM627 206h3v1h-3zM628 205h1v3h-1zM628 206h3v1h-3zM629 205h1v3h-1zM630 206h3v1h-3zM631 205h1v3h-1zM634 206h3v1h-3zM635 205h1v3h-1zM635 206h3v1h-3zM636 205h1v3h-1zM638 206h3v1h-3zM639 205h1v3h-1zM622 203h3v1h-3zM623 202h1v3h-1zM614 200h3v1h-3zM615 199h1v3h-1zM628 200h3v1h-3zM629 199h1v3h-1zM642 200h3v1h-3zM643 199h1v3h-1zM593 194h3v1h-3zM594 193h1v3h-1zM594 194h3v1h-3zM595 193h1v3h-1zM597 194h3v1h-3zM598 193h1v3h-1zM626 194h3v1h-3zM627 193h1v3h-1zM630 194h3v1h-3zM631 193h1v3h-1zM634 194h3v1h-3zM635 193h1v3h-1zM635 194h3v1h-3zM636 193h1v3h-1zM638 194h3v1h-3zM639 193h1v3h-1zM626 188h3v1h-3zM627 187h1v3h-1zM627 188h3v1h-3zM628 187h1v3h-1zM630 188h3v1h-3zM631 187h1v3h-1zM637 188h3v1h-3zM638 187h1v3h-1zM594 182h3v1h-3zM595 181h1v3h-1zM626 182h3v1h-3zM627 181h1v3h-1zM627 182h3v1h-3zM628 181h1v3h-1zM630 182h3v1h-3zM631 181h1v3h-1zM635 182h3v1h-3zM636 181h1v3h-1zM639 178h3v1h-3zM640 177h1v3h-1zM598 175h3v1h-3zM599 174h1v3h-1zM607 175h3v1h-3zM608 174h1v3h-1zM616 175h3v1h-3zM617 174h1v3h-1zM617 175h3v1h-3zM618 174h1v3h-1zM620 175h3v1h-3zM621 174h1v3h-1zM625 175h3v1h-3zM626 174h1v3h-1zM630 175h3v1h-3zM631 174h1v3h-1zM631 175h3v1h-3zM632 174h1v3h-1zM634 175h3v1h-3zM635 174h1v3h-1zM599 169h3v1h-3zM600 168h1v3h-1zM617 169h3v1h-3zM618 168h1v3h-1zM618 169h3v1h-3zM619 168h1v3h-1zM621 169h3v1h-3zM622 168h1v3h-1zM626 169h3v1h-3zM627 168h1v3h-1zM627 169h3v1h-3zM628 168h1v3h-1zM630 169h3v1h-3zM631 168h1v3h-1zM635 169h3v1h-3zM636 168h1v3h-1zM636 169h3v1h-3zM637 168h1v3h-1zM638 169h3v1h-3zM639 168h1v3h-1zM608 163h3v1h-3zM609 162h1v3h-1zM614 163h3v1h-3zM615 162h1v3h-1zM620 163h3v1h-3zM621 162h1v3h-1zM621 163h3v1h-3zM622 162h1v3h-1zM624 163h3v1h-3zM625 162h1v3h-1zM625 163h3v1h-3zM626 162h1v3h-1zM628 163h3v1h-3zM629 162h1v3h-1zM629 163h3v1h-3zM630 162h1v3h-1zM632 163h3v1h-3zM633 162h1v3h-1zM633 163h3v1h-3zM634 162h1v3h-1zM636 163h3v1h-3zM637 162h1v3h-1zM605 157h3v1h-3zM606 156h1v3h-1zM612 157h3v1h-3zM613 156h1v3h-1zM621 157h3v1h-3zM622 156h1v3h-1zM627 157h3v1h-3zM628 156h1v3h-1zM631 157h3v1h-3zM632 156h1v3h-1zM626 155h3v1h-3zM627 154h1v3h-1zM595 151h3v1h-3zM596 150h1v3h-1zM605 151h3v1h-3zM606 150h1v3h-1zM611 151h3v1h-3zM612 150h1v3h-1zM617 151h3v1h-3zM618 150h1v3h-1zM618 151h3v1h-3zM619 150h1v3h-1zM621 151h3v1h-3zM622 150h1v3h-1zM622 151h3v1h-3zM623 150h1v3h-1zM625 151h3v1h-3zM626 150h1v3h-1zM626 151h3v1h-3zM627 150h1v3h-1zM629 151h3v1h-3zM630 150h1v3h-1zM630 151h3v1h-3zM631 150h1v3h-1zM632 151h3v1h-3zM633 150h1v3h-1zM622 153h3v1h-3zM623 152h1v3h-1zM599 145h3v1h-3zM600 144h1v3h-1zM603 145h3v1h-3zM604 144h1v3h-1zM607 145h3v1h-3zM608 144h1v3h-1zM608 145h3v1h-3zM609 144h1v3h-1zM611 145h3v1h-3zM612 144h1v3h-1zM612 145h3v1h-3zM613 144h1v3h-1zM615 145h3v1h-3zM616 144h1v3h-1zM616 145h3v1h-3zM617 144h1v3h-1zM619 145h3v1h-3zM620 144h1v3h-1zM620 145h3v1h-3zM621 144h1v3h-1zM623 145h3v1h-3zM624 144h1v3h-1zM624 145h3v1h-3zM625 144h1v3h-1zM627 145h3v1h-3zM628 144h1v3h-1zM628 145h3v1h-3zM629 144h1v3h-1zM630 145h3v1h-3zM631 144h1v3h-1zM633 145h3v1h-3zM634 144h1v3h-1zM596 139h3v1h-3zM597 138h1v3h-1zM597 139h3v1h-3zM598 138h1v3h-1zM600 139h3v1h-3zM601 138h1v3h-1zM604 139h3v1h-3zM605 138h1v3h-1zM605 139h3v1h-3zM606 138h1v3h-1zM608 139h3v1h-3zM609 138h1v3h-1zM609 139h3v1h-3zM610 138h1v3h-1zM612 139h3v1h-3zM613 138h1v3h-1zM613 139h3v1h-3zM614 138h1v3h-1zM616 139h3v1h-3zM617 138h1v3h-1zM617 139h3v1h-3zM618 138h1v3h-1zM620 139h3v1h-3zM621 138h1v3h-1zM621 139h3v1h-3zM622 138h1v3h-1zM623 139h3v1h-3zM624 138h1v3h-1zM624 136h3v1h-3zM625 135h1v3h-1zM597 132h3v1h-3zM598 131h1v3h-1zM598 132h3v1h-3zM599 131h1v3h-1zM601 132h3v1h-3zM602 131h1v3h-1zM608 132h3v1h-3zM609 131h1v3h-1zM609 132h3v1h-3zM610 131h1v3h-1zM612 132h3v1h-3zM613 131h1v3h-1zM617 132h3v1h-3zM618 131h1v3h-1zM618 132h3v1h-3zM619 131h1v3h-1zM620 132h3v1h-3zM621 131h1v3h-1zM624 132h3v1h-3zM625 131h1v3h-1zM625 132h3v1h-3zM626 131h1v3h-1zM628 132h3v1h-3zM629 131h1v3h-1zM629 132h3v1h-3zM630 131h1v3h-1zM632 132h3v1h-3zM633 131h1v3h-1zM600 126h3v1h-3zM601 125h1v3h-1zM601 126h3v1h-3zM602 125h1v3h-1zM607 126h3v1h-3zM608 125h1v3h-1zM608 126h3v1h-3zM609 125h1v3h-1zM611 126h3v1h-3zM612 125h1v3h-1zM612 126h3v1h-3zM613 125h1v3h-1zM615 126h3v1h-3zM616 125h1v3h-1zM616 126h3v1h-3zM617 125h1v3h-1zM619 126h3v1h-3zM620 125h1v3h-1zM620 126h3v1h-3zM621 125h1v3h-1zM622 126h3v1h-3zM623 125h1v3h-1zM595 120h3v1h-3zM596 119h1v3h-1zM612 120h3v1h-3zM613 119h1v3h-1zM613 120h3v1h-3zM614 119h1v3h-1zM616 120h3v1h-3zM617 119h1v3h-1zM624 120h3v1h-3zM625 119h1v3h-1zM614 114h3v1h-3zM615 113h1v3h-1zM601 108h3v1h-3zM602 107h1v3h-1zM619 106h3v1h-3zM620 105h1v3h-1zM608 102h3v1h-3zM609 101h1v3h-1zM641 231h3v1h-3zM642 230h1v3h-1zM642 231h3v1h-3zM643 230h1v3h-1zM643 231h3v1h-3zM644 230h1v3h-1zM649 237h3v1h-3zM650 236h1v3h-1zM643 243h3v1h-3zM644 242h1v3h-1zM647 243h3v1h-3zM648 242h1v3h-1zM643 249h3v1h-3zM644 248h1v3h-1zM644 249h3v1h-3zM645 248h1v3h-1zM644 255h3v1h-3zM645 254h1v3h-1zM645 255h3v1h-3zM646 254h1v3h-1zM648 255h3v1h-3zM649 254h1v3h-1zM652 255h3v1h-3zM653 254h1v3h-1zM650 261h3v1h-3zM651 260h1v3h-1zM646 267h3v1h-3zM647 266h1v3h-1zM652 267h3v1h-3zM653 266h1v3h-1zM648 273h3v1h-3zM649 272h1v3h-1zM649 273h3v1h-3zM650 272h1v3h-1zM652 273h3v1h-3zM653 272h1v3h-1zM645 280h3v1h-3zM646 279h1v3h-1zM651 280h3v1h-3zM652 279h1v3h-1zM647 292h3v1h-3zM648 291h1v3h-1zM648 292h3v1h-3zM649 291h1v3h-1zM650 292h3v1h-3zM651 291h1v3h-1zM655 298h3v1h-3zM656 297h1v3h-1zM656 298h3v1h-3zM657 297h1v3h-1zM658 298h3v1h-3zM659 297h1v3h-1zM663 323h3v1h-3zM664 322h1v3h-1zM657 335h3v1h-3zM658 334h1v3h-1zM723 439h3v1h-3zM724 438h1v3h-1zM692 445h3v1h-3zM693 444h1v3h-1zM711 457h3v1h-3zM712 456h1v3h-1zM718 457h3v1h-3zM719 456h1v3h-1zM722 464h3v1h-3zM723 463h1v3h-1zM716 470h3v1h-3zM717 469h1v3h-1zM700 476h3v1h-3zM701 475h1v3h-1zM739 476h3v1h-3zM740 475h1v3h-1zM721 482h3v1h-3zM722 481h1v3h-1zM714 488h3v1h-3zM715 487h1v3h-1zM731 421h3v1h-3zM732 420h1v3h-1zM731 402h3v1h-3zM732 401h1v3h-1zM732 402h3v1h-3zM733 401h1v3h-1zM735 402h3v1h-3zM736 401h1v3h-1zM736 402h3v1h-3zM737 401h1v3h-1zM734 396h3v1h-3zM735 395h1v3h-1zM735 396h3v1h-3zM736 395h1v3h-1zM739 390h3v1h-3zM740 389h1v3h-1zM740 384h3v1h-3zM741 383h1v3h-1zM741 384h3v1h-3zM742 383h1v3h-1zM744 384h3v1h-3zM745 383h1v3h-1zM744 378h3v1h-3zM745 377h1v3h-1zM745 378h3v1h-3zM746 377h1v3h-1zM748 378h3v1h-3zM749 377h1v3h-1zM749 378h3v1h-3zM750 377h1v3h-1zM746 372h3v1h-3zM747 371h1v3h-1zM745 359h3v1h-3zM746 358h1v3h-1zM749 353h3v1h-3zM750 352h1v3h-1zM750 353h3v1h-3zM751 352h1v3h-1zM749 347h3v1h-3zM750 346h1v3h-1zM754 335h3v1h-3zM755 334h1v3h-1zM760 329h3v1h-3zM761 328h1v3h-1zM757 323h3v1h-3zM758 322h1v3h-1zM754 316h3v1h-3zM755 315h1v3h-1zM755 316h3v1h-3zM756 315h1v3h-1zM756 310h3v1h-3zM757 309h1v3h-1zM757 310h3v1h-3zM758 309h1v3h-1zM759 310h3v1h-3zM760 309h1v3h-1zM756 304h3v1h-3zM757 303h1v3h-1zM761 304h3v1h-3zM762 303h1v3h-1zM756 298h3v1h-3zM757 297h1v3h-1zM759 298h3v1h-3zM760 297h1v3h-1zM760 298h3v1h-3zM761 297h1v3h-1zM763 298h3v1h-3zM764 297h1v3h-1zM758 292h3v1h-3zM759 291h1v3h-1zM759 292h3v1h-3zM760 291h1v3h-1zM762 292h3v1h-3zM763 291h1v3h-1zM763 286h3v1h-3zM764 285h1v3h-1zM764 286h3v1h-3zM765 285h1v3h-1zM767 286h3v1h-3zM768 285h1v3h-1zM761 280h3v1h-3zM762 279h1v3h-1zM762 280h3v1h-3zM763 279h1v3h-1zM765 280h3v1h-3zM766 279h1v3h-1zM766 280h3v1h-3zM767 279h1v3h-1zM763 273h3v1h-3zM764 272h1v3h-1zM764 273h3v1h-3zM765 272h1v3h-1zM767 273h3v1h-3zM768 272h1v3h-1zM767 271h3v1h-3zM768 270h1v3h-1zM765 267h3v1h-3zM766 266h1v3h-1zM766 267h3v1h-3zM767 266h1v3h-1zM769 267h3v1h-3zM770 266h1v3h-1zM766 261h3v1h-3zM767 260h1v3h-1zM774 255h3v1h-3zM775 254h1v3h-1zM770 249h3v1h-3zM771 248h1v3h-1zM771 249h3v1h-3zM772 248h1v3h-1zM774 249h3v1h-3zM775 248h1v3h-1zM766 243h3v1h-3zM767 242h1v3h-1zM773 243h3v1h-3zM774 242h1v3h-1zM774 243h3v1h-3zM775 242h1v3h-1zM777 243h3v1h-3zM778 242h1v3h-1zM798 243h3v1h-3zM799 242h1v3h-1zM773 237h3v1h-3zM774 236h1v3h-1zM774 237h3v1h-3zM775 236h1v3h-1zM777 237h3v1h-3zM778 236h1v3h-1zM776 231h3v1h-3zM777 230h1v3h-1zM777 231h3v1h-3zM778 230h1v3h-1zM780 231h3v1h-3zM781 230h1v3h-1zM781 231h3v1h-3zM782 230h1v3h-1zM783 231h3v1h-3zM784 230h1v3h-1zM833 231h3v1h-3zM834 230h1v3h-1zM779 232h3v1h-3zM780 231h1v3h-1zM775 224h3v1h-3zM776 223h1v3h-1zM817 224h3v1h-3zM818 223h1v3h-1zM825 224h3v1h-3zM826 223h1v3h-1zM826 224h3v1h-3zM827 223h1v3h-1zM833 224h3v1h-3zM834 223h1v3h-1zM774 218h3v1h-3zM775 217h1v3h-1zM775 218h3v1h-3zM776 217h1v3h-1zM778 218h3v1h-3zM779 217h1v3h-1zM782 218h3v1h-3zM783 217h1v3h-1zM824 218h3v1h-3zM825 217h1v3h-1zM825 218h3v1h-3zM826 217h1v3h-1zM828 218h3v1h-3zM829 217h1v3h-1zM829 218h3v1h-3zM830 217h1v3h-1zM834 218h3v1h-3zM835 217h1v3h-1zM776 212h3v1h-3zM777 211h1v3h-1zM777 212h3v1h-3zM778 211h1v3h-1zM780 212h3v1h-3zM781 211h1v3h-1zM781 212h3v1h-3zM782 211h1v3h-1zM784 212h3v1h-3zM785 211h1v3h-1zM794 212h3v1h-3zM795 211h1v3h-1zM799 212h3v1h-3zM800 211h1v3h-1zM825 212h3v1h-3zM826 211h1v3h-1zM826 212h3v1h-3zM827 211h1v3h-1zM829 212h3v1h-3zM830 211h1v3h-1zM779 206h3v1h-3zM780 205h1v3h-1zM780 206h3v1h-3zM781 205h1v3h-1zM783 206h3v1h-3zM784 205h1v3h-1zM784 206h3v1h-3zM785 205h1v3h-1zM786 206h3v1h-3zM787 205h1v3h-1zM814 206h3v1h-3zM815 205h1v3h-1zM825 206h3v1h-3zM826 205h1v3h-1zM783 200h3v1h-3zM784 199h1v3h-1zM801 200h3v1h-3zM802 199h1v3h-1zM825 200h3v1h-3zM826 199h1v3h-1zM826 200h3v1h-3zM827 199h1v3h-1zM829 200h3v1h-3zM830 199h1v3h-1zM836 200h3v1h-3zM837 199h1v3h-1zM780 194h3v1h-3zM781 193h1v3h-1zM781 194h3v1h-3zM782 193h1v3h-1zM784 194h3v1h-3zM785 193h1v3h-1zM785 194h3v1h-3zM786 193h1v3h-1zM820 194h3v1h-3zM821 193h1v3h-1zM821 194h3v1h-3zM822 193h1v3h-1zM824 194h3v1h-3zM825 193h1v3h-1zM829 194h3v1h-3zM830 193h1v3h-1zM818 191h3v1h-3zM819 190h1v3h-1zM781 188h3v1h-3zM782 187h1v3h-1zM793 188h3v1h-3zM794 187h1v3h-1zM794 188h3v1h-3zM795 187h1v3h-1zM825 188h3v1h-3zM826 187h1v3h-1zM829 188h3v1h-3zM830 187h1v3h-1zM781 182h3v1h-3zM782 181h1v3h-1zM785 182h3v1h-3zM786 181h1v3h-1zM786 182h3v1h-3zM787 181h1v3h-1zM789 182h3v1h-3zM790 181h1v3h-1zM818 182h3v1h-3zM819 181h1v3h-1zM825 182h3v1h-3zM826 181h1v3h-1zM826 182h3v1h-3zM827 181h1v3h-1zM829 182h3v1h-3zM830 181h1v3h-1zM788 180h3v1h-3zM789 179h1v3h-1zM808 179h3v1h-3zM809 178h1v3h-1zM817 175h3v1h-3zM818 174h1v3h-1zM818 175h3v1h-3zM819 174h1v3h-1zM821 175h3v1h-3zM822 174h1v3h-1zM797 169h3v1h-3zM798 168h1v3h-1zM798 169h3v1h-3zM799 168h1v3h-1zM801 169h3v1h-3zM802 168h1v3h-1zM802 169h3v1h-3zM803 168h1v3h-1zM804 169h3v1h-3zM805 168h1v3h-1zM815 169h3v1h-3zM816 168h1v3h-1zM819 169h3v1h-3zM820 168h1v3h-1zM829 169h3v1h-3zM830 168h1v3h-1zM801 167h3v1h-3zM802 166h1v3h-1zM784 163h3v1h-3zM785 162h1v3h-1zM789 163h3v1h-3zM790 162h1v3h-1zM790 163h3v1h-3zM791 162h1v3h-1zM793 163h3v1h-3zM794 162h1v3h-1zM794 163h3v1h-3zM795 162h1v3h-1zM801 163h3v1h-3zM802 162h1v3h-1zM806 163h3v1h-3zM807 162h1v3h-1zM807 163h3v1h-3zM808 162h1v3h-1zM810 163h3v1h-3zM811 162h1v3h-1zM821 163h3v1h-3zM822 162h1v3h-1zM822 163h3v1h-3zM823 162h1v3h-1zM825 163h3v1h-3zM826 162h1v3h-1zM792 157h3v1h-3zM793 156h1v3h-1zM793 157h3v1h-3zM794 156h1v3h-1zM796 157h3v1h-3zM797 156h1v3h-1zM797 157h3v1h-3zM798 156h1v3h-1zM800 157h3v1h-3zM801 156h1v3h-1zM801 157h3v1h-3zM802 156h1v3h-1zM804 157h3v1h-3zM805 156h1v3h-1zM812 157h3v1h-3zM813 156h1v3h-1zM817 157h3v1h-3zM818 156h1v3h-1zM818 157h3v1h-3zM819 156h1v3h-1zM821 157h3v1h-3zM822 156h1v3h-1zM825 157h3v1h-3zM826 156h1v3h-1zM826 157h3v1h-3zM827 156h1v3h-1zM829 157h3v1h-3zM830 156h1v3h-1zM830 157h3v1h-3zM831 156h1v3h-1zM790 151h3v1h-3zM791 150h1v3h-1zM791 151h3v1h-3zM792 150h1v3h-1zM794 151h3v1h-3zM795 150h1v3h-1zM795 151h3v1h-3zM796 150h1v3h-1zM798 151h3v1h-3zM799 150h1v3h-1zM799 151h3v1h-3zM800 150h1v3h-1zM802 151h3v1h-3zM803 150h1v3h-1zM803 151h3v1h-3zM804 150h1v3h-1zM817 151h3v1h-3zM818 150h1v3h-1zM818 151h3v1h-3zM819 150h1v3h-1zM821 151h3v1h-3zM822 150h1v3h-1zM822 151h3v1h-3zM823 150h1v3h-1zM795 145h3v1h-3zM796 144h1v3h-1zM796 145h3v1h-3zM797 144h1v3h-1zM799 145h3v1h-3zM800 144h1v3h-1zM804 145h3v1h-3zM805 144h1v3h-1zM805 145h3v1h-3zM806 144h1v3h-1zM808 145h3v1h-3zM809 144h1v3h-1zM809 145h3v1h-3zM810 144h1v3h-1zM812 145h3v1h-3zM813 144h1v3h-1zM813 145h3v1h-3zM814 144h1v3h-1zM816 145h3v1h-3zM817 144h1v3h-1zM817 145h3v1h-3zM818 144h1v3h-1zM796 139h3v1h-3zM797 138h1v3h-1zM797 139h3v1h-3zM798 138h1v3h-1zM800 139h3v1h-3zM801 138h1v3h-1zM801 139h3v1h-3zM802 138h1v3h-1zM804 139h3v1h-3zM805 138h1v3h-1zM805 139h3v1h-3zM806 138h1v3h-1zM808 139h3v1h-3zM809 138h1v3h-1zM809 139h3v1h-3zM810 138h1v3h-1zM811 139h3v1h-3zM812 138h1v3h-1zM794 132h3v1h-3zM795 131h1v3h-1zM795 132h3v1h-3zM796 131h1v3h-1zM798 132h3v1h-3zM799 131h1v3h-1zM799 132h3v1h-3zM800 131h1v3h-1zM801 132h3v1h-3zM802 131h1v3h-1zM803 132h3v1h-3zM804 131h1v3h-1zM808 132h3v1h-3zM809 131h1v3h-1zM809 132h3v1h-3zM810 131h1v3h-1zM812 132h3v1h-3zM813 131h1v3h-1zM815 132h3v1h-3zM816 131h1v3h-1zM816 132h3v1h-3zM817 131h1v3h-1zM819 132h3v1h-3zM820 131h1v3h-1zM800 129h3v1h-3zM801 128h1v3h-1zM796 126h3v1h-3zM797 125h1v3h-1zM797 126h3v1h-3zM798 125h1v3h-1zM800 126h3v1h-3zM801 125h1v3h-1zM801 126h3v1h-3zM802 125h1v3h-1zM803 126h3v1h-3zM804 125h1v3h-1zM803 120h3v1h-3zM804 119h1v3h-1zM810 120h3v1h-3zM811 119h1v3h-1zM802 114h3v1h-3zM803 113h1v3h-1zM803 114h3v1h-3zM804 113h1v3h-1zM806 114h3v1h-3zM807 113h1v3h-1zM846 231h3v1h-3zM847 230h1v3h-1zM826 237h3v1h-3zM827 236h1v3h-1zM827 237h3v1h-3zM828 236h1v3h-1zM830 237h3v1h-3zM831 236h1v3h-1zM839 237h3v1h-3zM840 236h1v3h-1zM829 243h3v1h-3zM830 242h1v3h-1zM836 243h3v1h-3zM837 242h1v3h-1zM840 243h3v1h-3zM841 242h1v3h-1zM837 249h3v1h-3zM838 248h1v3h-1zM838 249h3v1h-3zM839 248h1v3h-1zM841 249h3v1h-3zM842 248h1v3h-1zM837 255h3v1h-3zM838 254h1v3h-1zM838 255h3v1h-3zM839 254h1v3h-1zM840 255h3v1h-3zM841 254h1v3h-1zM838 261h3v1h-3zM839 260h1v3h-1zM839 261h3v1h-3zM840 260h1v3h-1zM844 267h3v1h-3zM845 266h1v3h-1zM835 271h3v1h-3zM836 270h1v3h-1zM839 273h3v1h-3zM840 272h1v3h-1zM843 278h3v1h-3zM844 277h1v3h-1zM838 280h3v1h-3zM839 279h1v3h-1zM839 280h3v1h-3zM840 279h1v3h-1zM842 280h3v1h-3zM843 279h1v3h-1zM843 280h3v1h-3zM844 279h1v3h-1zM846 280h3v1h-3zM847 279h1v3h-1zM847 280h3v1h-3zM848 279h1v3h-1zM844 286h3v1h-3zM845 285h1v3h-1zM845 286h3v1h-3zM846 285h1v3h-1zM848 292h3v1h-3zM849 291h1v3h-1zM849 298h3v1h-3zM850 297h1v3h-1zM846 304h3v1h-3zM847 303h1v3h-1zM847 304h3v1h-3zM848 303h1v3h-1zM846 310h3v1h-3zM847 309h1v3h-1zM850 310h3v1h-3zM851 309h1v3h-1zM851 310h3v1h-3zM852 309h1v3h-1zM840 316h3v1h-3zM841 315h1v3h-1zM858 316h3v1h-3zM859 315h1v3h-1zM859 316h3v1h-3zM860 315h1v3h-1zM864 316h3v1h-3zM865 315h1v3h-1zM847 323h3v1h-3zM848 322h1v3h-1zM851 323h3v1h-3zM852 322h1v3h-1zM856 323h3v1h-3zM857 322h1v3h-1zM856 329h3v1h-3zM857 328h1v3h-1zM852 335h3v1h-3zM853 334h1v3h-1zM853 335h3v1h-3zM854 334h1v3h-1zM856 335h3v1h-3zM857 334h1v3h-1zM861 335h3v1h-3zM862 334h1v3h-1zM867 335h3v1h-3zM868 334h1v3h-1zM849 341h3v1h-3zM850 340h1v3h-1zM857 341h3v1h-3zM858 340h1v3h-1zM860 347h3v1h-3zM861 346h1v3h-1zM861 347h3v1h-3zM862 346h1v3h-1zM864 347h3v1h-3zM865 346h1v3h-1zM865 347h3v1h-3zM866 346h1v3h-1zM861 353h3v1h-3zM862 352h1v3h-1zM862 353h3v1h-3zM863 352h1v3h-1zM865 353h3v1h-3zM866 352h1v3h-1zM858 359h3v1h-3zM859 358h1v3h-1zM859 359h3v1h-3zM860 358h1v3h-1zM862 359h3v1h-3zM863 358h1v3h-1zM858 365h3v1h-3zM859 364h1v3h-1zM859 365h3v1h-3zM860 364h1v3h-1zM863 365h3v1h-3zM864 364h1v3h-1zM864 365h3v1h-3zM865 364h1v3h-1zM867 365h3v1h-3zM868 364h1v3h-1zM898 365h3v1h-3zM899 364h1v3h-1zM863 372h3v1h-3zM864 371h1v3h-1zM864 372h3v1h-3zM865 371h1v3h-1zM867 372h3v1h-3zM868 371h1v3h-1zM879 373h3v1h-3zM880 372h1v3h-1zM862 384h3v1h-3zM863 383h1v3h-1zM871 384h3v1h-3zM872 383h1v3h-1zM869 390h3v1h-3zM870 389h1v3h-1zM873 390h3v1h-3zM874 389h1v3h-1zM870 396h3v1h-3zM871 395h1v3h-1zM876 396h3v1h-3zM877 395h1v3h-1zM877 396h3v1h-3zM878 395h1v3h-1zM880 396h3v1h-3zM881 395h1v3h-1zM881 396h3v1h-3zM882 395h1v3h-1zM870 400h3v1h-3zM871 399h1v3h-1zM881 402h3v1h-3zM882 401h1v3h-1zM881 408h3v1h-3zM882 407h1v3h-1zM882 408h3v1h-3zM883 407h1v3h-1zM880 414h3v1h-3zM881 413h1v3h-1zM881 414h3v1h-3zM882 413h1v3h-1zM883 414h3v1h-3zM884 413h1v3h-1zM880 424h3v1h-3zM881 423h1v3h-1zM896 427h3v1h-3zM897 426h1v3h-1zM880 433h3v1h-3zM881 432h1v3h-1zM893 433h3v1h-3zM894 432h1v3h-1zM906 433h3v1h-3zM907 432h1v3h-1zM899 439h3v1h-3zM900 438h1v3h-1zM900 439h3v1h-3zM901 438h1v3h-1zM902 439h3v1h-3zM903 438h1v3h-1zM911 439h3v1h-3zM912 438h1v3h-1zM905 451h3v1h-3zM906 450h1v3h-1z" fill="#000"/>
<path d="M46.5 59.5H913.5V549.5H46.5ZM46 59.5h6M913 59.5h-6M46 120.5h6M913 120.5h-6M46 182.5h6M913 182.5h-6M46 243.5h6M913 243.5h-6M46 304.5h6M913 304.5h-6M46 365.5h6M913 365.5h-6M46 427.5h6M913 427.5h-6M46 488.5h6M913 488.5h-6M46 549.5h6M913 549.5h-6M69.5 549.5v-6.5M69.5 59.5v6.5M197.5 549.5v-6.5M197.5 59.5v6.5M329.5 549.5v-6.5M329.5 59.5v6.5M458.5 549.5v-6.5M458.5 59.5v6.5M589.5 549.5v-6.5M589.5 59.5v6.5M719.5 549.5v-6.5M719.5 59.5v6.5M850.5 549.5v-6.5M850.5 59.5v6.5M90.5 549.5v-3.5M90.5 59.5v3.5M112.5 549.5v-3.5M112.5 59.5v3.5M134.5 549.5v-3.5M134.5 59.5v3.5M155.5 549.5v-3.5M155.5 59.5v3.5M177.5 549.5v-3.5M177.5 59.5v3.5M219.5 549.5v-3.5M219.5 59.5v3.5M241.5 549.5v-3.5M241.5 59.5v3.5M263.5 549.5v-3.5M263.5 59.5v3.5M284.5 549.5v-3.5M284.5 59.5v3.5M306.5 549.5v-3.5M306.5 59.5v3.5M350.5 549.5v-3.5M350.5 59.5v3.5M372.5 549.5v-3.5M372.5 59.5v3.5M394.5 549.5v-3.5M394.5 59.5v3.5M415.5 549.5v-3.5M415.5 59.5v3.5M437.5 549.5v-3.5M437.5 59.5v3.5M480.5 549.5v-3.5M480.5 59.5v3.5M502.5 549.5v-3.5M502.5 59.5v3.5M523.5 549.5v-3.5M523.5 59.5v3.5M545.5 549.5v-3.5M545.5 59.5v3.5M567.5 549.5v-3.5M567.5 59.5v3.5M611.5 549.5v-3.5M611.5 59.5v3.5M633.5 549.5v-3.5M633.5 59.5v3.5M654.5 549.5v-3.5M654.5 59.5v3.5M676.5 549.5v-3.5M676.5 59.5v3.5M698.5 549.5v-3.5M698.5 59.5v3.5M741.5 549.5v-3.5M741.5 59.5v3.5M762.5 549.5v-3.5M762.5 59.5v3.5M784.5 549.5v-3.5M784.5 59.5v3.5M806.5 549.5v-3.5M806.5 59.5v3.5M827.5 549.5v-3.5M827.5 59.5v3.5M872.5 549.5v-3.5M872.5 59.5v3.5M893.5 549.5v-3.5M893.5 59.5v3.5" stroke="#000" stroke-width="1" fill="none"/>
<text x="39" y="64" text-anchor="end">5.0</text><text x="39" y="125" text-anchor="end">6.0</text><text x="39" y="187" text-anchor="end">7.0</text><text x="39" y="248" text-anchor="end">8.0</text><text x="39" y="309" text-anchor="end">9.0</text><text x="39" y="370" text-anchor="end">10.0</text><text x="39" y="432" text-anchor="end">11.0</text><text x="39" y="493" text-anchor="end">12.0</text><text x="39" y="554" text-anchor="end">13.0</text>
<text x="69.5" y="569" text-anchor="middle">2017</text><text x="197.5" y="569" text-anchor="middle">2017</text><text x="329.5" y="569" text-anchor="middle">2018</text><text x="458.5" y="569" text-anchor="middle">2018</text><text x="589.5" y="569" text-anchor="middle">2019</text><text x="719.5" y="569" text-anchor="middle">2019</text><text x="850.5" y="569" text-anchor="middle">2020</text>
<text x="480" y="599" text-anchor="middle">Observationer från AAVSO International Database (www.aavso.org)</text>
<text x="386" y="631">V band</text>
<rect x="453" y="624" width="4" height="4" fill="#00ff00"/>
<text x="496" y="631">visual obs</text>
<path d="M581 626h3v1h-3zM582 625h1v3h-1z" fill="#000"/>
<ellipse cx="76.5" cy="238" rx="20.5" ry="20" fill="none" stroke="#e03333" stroke-width="6"/>
<ellipse cx="907.9" cy="434.4" rx="22.9" ry="24.4" fill="none" stroke="#ffff00" stroke-width="6.3"/>
</svg>
</body></html>
